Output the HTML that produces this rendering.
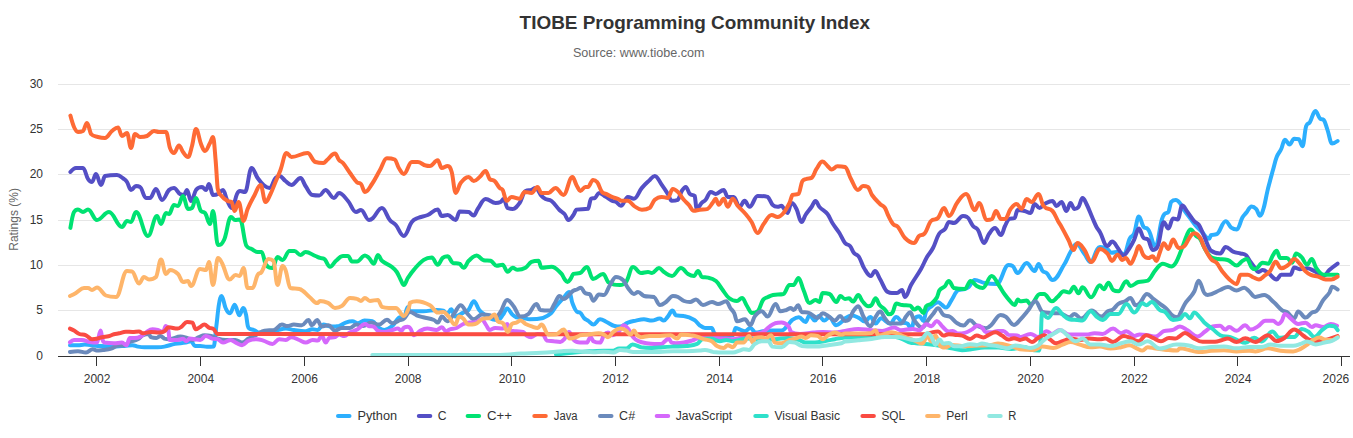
<!DOCTYPE html>
<html><head><meta charset="utf-8"><style>
html,body{margin:0;padding:0;background:#fff;}
body{width:1353px;height:438px;overflow:hidden;}
svg{display:block;font-family:"Liberation Sans",sans-serif;}
</style></head><body>
<svg width="1353" height="438" viewBox="0 0 1353 438">
<rect width="1353" height="438" fill="#fff"/>
<text x="694.8" y="28.7" text-anchor="middle" font-size="19" font-weight="bold" fill="#333333" textLength="350.4" lengthAdjust="spacingAndGlyphs">TIOBE Programming Community Index</text>
<text x="638.7" y="56.6" text-anchor="middle" font-size="12" fill="#666666" textLength="131.6" lengthAdjust="spacingAndGlyphs">Source: www.tiobe.com</text>
<g><path d="M58 310.5 H1350" stroke="#e6e6e6" stroke-width="1"/><path d="M58 265.5 H1350" stroke="#e6e6e6" stroke-width="1"/><path d="M58 220.5 H1350" stroke="#e6e6e6" stroke-width="1"/><path d="M58 174.5 H1350" stroke="#e6e6e6" stroke-width="1"/><path d="M58 129.5 H1350" stroke="#e6e6e6" stroke-width="1"/><path d="M58 84.5 H1350" stroke="#e6e6e6" stroke-width="1"/></g>
<g><path d="M70.0 345.2 C70.0 345.2 74.8 345.2 78.0 345.2 C80.6 345.2 82.0 344.6 84.6 344.6 C90.0 344.6 92.6 345.5 98.0 345.9 C103.2 346.3 105.8 346.6 111.0 346.6 C116.4 346.6 119.1 346.3 124.5 345.9 C127.7 345.7 129.3 345.2 132.5 345.2 C134.6 345.2 135.7 346.2 137.8 346.6 C140.5 347.0 141.8 347.2 144.5 347.2 C149.8 347.2 152.5 347.2 157.8 347.2 C160.4 347.2 161.8 347.1 164.4 346.6 C168.6 345.8 170.8 344.7 175.0 343.9 C179.3 343.1 181.4 343.3 185.7 342.6 C187.8 342.2 188.9 341.2 191.0 341.2 C192.6 341.2 193.4 345.9 195.0 345.9 C197.1 345.9 198.2 345.9 200.3 345.9 C203.0 345.9 204.3 346.8 207.0 346.8 C209.6 346.8 211.0 346.8 213.6 346.6 C214.7 346.4 215.2 335.1 216.3 326.6 C217.4 318.1 217.9 310.2 219.0 304.0 C220.0 298.0 220.6 296.0 221.6 296.0 C223.2 296.0 224.0 304.7 225.6 308.0 C227.4 311.6 228.2 313.3 230.0 313.3 C231.9 313.3 232.8 304.7 234.7 304.7 C236.5 304.7 237.5 315.3 239.3 315.3 C240.9 315.3 241.7 308.0 243.3 308.0 C244.4 308.0 244.9 310.3 246.0 314.6 C246.8 317.8 247.2 324.6 248.0 326.6 C248.5 328.6 248.8 328.3 249.3 328.6 C251.2 329.7 252.1 329.2 254.0 330.0 C256.1 330.8 257.2 332.6 259.3 332.6 C261.4 332.6 262.5 332.0 264.6 332.0 C266.8 332.0 267.8 332.0 270.0 332.0 C273.2 332.0 274.7 330.7 277.9 330.0 C281.1 329.3 282.7 328.6 285.9 328.6 C289.1 328.6 290.7 329.5 293.9 330.0 C298.1 330.6 300.3 331.3 304.5 331.3 C307.7 331.3 309.3 329.3 312.5 329.3 C314.6 329.3 315.7 330.0 317.8 330.0 C319.9 330.0 321.0 324.6 323.1 324.6 C326.3 324.6 327.9 326.6 331.1 326.6 C334.3 326.6 335.8 326.6 339.0 326.0 C341.7 325.4 343.0 323.5 345.7 322.6 C348.4 321.7 349.7 321.3 352.4 321.3 C354.5 321.3 355.6 323.3 357.7 323.3 C360.4 323.3 361.7 320.6 364.4 320.6 C367.6 320.6 369.1 320.6 372.3 321.3 C375.0 322.0 376.3 326.1 379.0 328.0 C381.1 329.5 382.2 330.0 384.3 330.0 C387.5 330.0 389.1 328.5 392.3 326.0 C395.5 323.5 397.1 317.3 400.3 317.3 C401.7 317.3 402.4 317.8 403.8 317.8 C405.4 317.8 406.2 306.9 407.8 306.9 C408.7 306.9 409.1 311.3 410.0 311.3 C415.3 311.3 418.0 311.3 423.3 311.3 C428.6 311.3 431.3 310.0 436.6 310.0 C439.3 310.0 440.6 310.0 443.3 310.6 C444.9 311.2 445.6 314.0 447.2 314.0 C448.8 314.0 449.6 309.3 451.2 309.3 C452.8 309.3 453.6 316.6 455.2 316.6 C458.4 316.6 460.0 314.2 463.2 312.6 C465.3 311.5 466.4 312.2 468.5 310.0 C470.7 307.7 471.7 301.3 473.9 301.3 C476.0 301.3 477.1 307.3 479.2 310.0 C481.3 312.7 482.4 313.1 484.5 314.6 C487.7 316.8 489.3 318.6 492.5 319.3 C494.6 320.0 495.7 320.0 497.8 320.0 C499.9 320.0 501.0 317.2 503.1 314.6 C504.7 312.6 505.5 308.6 507.1 308.6 C509.2 308.6 510.3 312.6 512.4 314.6 C514.0 316.1 514.8 316.6 516.4 317.3 C519.1 318.0 520.4 317.6 523.1 318.0 C525.7 318.4 527.1 319.3 529.7 319.3 C535.0 319.3 537.7 319.3 543.0 318.0 C546.2 316.7 547.8 316.2 551.0 313.3 C553.1 311.4 554.2 308.6 556.3 306.0 C559.2 302.5 560.6 301.0 563.5 297.9 C565.9 295.4 567.0 291.9 569.4 291.9 C570.6 291.9 571.1 299.9 572.3 302.7 C574.4 307.9 575.5 311.4 577.6 312.0 C578.6 312.6 579.0 312.0 580.0 312.6 C581.6 313.2 582.4 316.4 584.0 318.0 C585.6 319.6 586.4 319.5 588.0 320.6 C590.1 322.1 591.2 324.6 593.3 324.6 C596.0 324.6 597.3 319.3 600.0 319.3 C602.6 319.3 604.0 320.8 606.6 322.0 C609.8 323.5 611.4 325.4 614.6 326.0 C616.8 326.6 617.8 326.6 620.0 326.6 C623.2 326.6 624.7 323.8 627.9 322.6 C631.1 321.4 632.7 321.3 635.9 320.6 C639.1 319.9 640.7 319.3 643.9 319.3 C647.1 319.3 648.6 320.6 651.8 320.6 C655.0 320.6 656.6 318.6 659.8 318.6 C661.4 318.6 662.2 320.6 663.8 320.6 C665.4 320.6 666.2 318.4 667.8 316.6 C669.7 314.4 670.6 310.6 672.5 310.6 C673.8 310.6 674.5 314.6 675.8 315.3 C679.0 316.0 680.6 315.3 683.8 316.0 C688.0 316.7 690.2 317.5 694.4 320.0 C696.5 321.2 697.6 323.7 699.7 325.3 C701.8 326.9 702.9 327.9 705.0 327.9 C707.7 327.9 709.0 327.9 711.7 327.9 C712.8 327.9 713.3 331.9 714.4 333.3 C716.0 335.4 716.8 336.6 718.4 336.6 C721.6 336.6 723.1 336.2 726.3 335.9 C729.0 335.7 730.3 335.9 733.0 335.3 C734.0 334.7 734.6 327.9 735.6 327.9 C737.2 327.9 738.0 328.7 739.6 329.3 C741.8 330.1 742.8 331.3 745.0 331.3 C747.1 331.3 748.2 327.9 750.3 327.9 C752.4 327.9 753.5 332.6 755.6 332.6 C758.6 332.6 760.0 331.7 763.0 331.3 C766.7 330.9 768.6 330.6 772.3 330.6 C776.0 330.6 777.9 330.6 781.6 330.6 C784.3 330.6 785.6 327.3 788.3 324.6 C789.9 323.0 790.6 321.1 792.2 320.0 C794.9 318.2 796.2 317.3 798.9 317.3 C801.6 317.3 802.9 322.0 805.6 322.0 C807.2 322.0 807.9 315.3 809.5 315.3 C811.7 315.3 812.7 320.6 814.9 320.6 C816.5 320.6 817.3 316.0 818.9 316.0 C821.0 316.0 822.1 320.6 824.2 320.6 C826.3 320.6 827.4 317.3 829.5 317.3 C832.1 317.3 833.5 325.3 836.1 325.3 C838.3 325.3 839.3 323.7 841.5 322.0 C842.9 320.9 843.6 319.2 845.0 318.3 C847.7 316.6 849.0 315.6 851.7 315.6 C854.3 315.6 855.7 316.4 858.3 317.6 C861.0 318.8 862.3 321.6 865.0 321.6 C867.1 321.6 868.2 316.9 870.3 316.9 C872.4 316.9 873.5 323.6 875.6 323.6 C877.7 323.6 878.8 318.3 880.9 318.3 C884.6 318.3 886.5 323.6 890.2 323.6 C892.6 323.6 893.8 316.9 896.2 316.9 C898.6 316.9 899.8 320.9 902.2 322.3 C904.3 323.6 905.4 322.3 907.5 323.6 C909.1 324.9 909.9 328.9 911.5 328.9 C912.6 328.9 913.1 321.5 914.2 318.9 C916.3 316.3 917.4 316.3 919.5 316.3 C921.1 316.3 921.9 320.9 923.5 320.9 C924.5 320.9 925.1 313.5 926.1 311.6 C928.3 307.7 929.3 308.0 931.5 306.3 C934.1 304.3 935.5 302.3 938.1 302.3 C939.7 302.3 940.5 303.9 942.1 305.0 C943.7 306.1 944.5 307.6 946.1 307.6 C948.2 307.6 949.3 303.4 951.4 300.3 C954.1 296.4 955.4 291.6 958.1 290.3 C960.7 289.0 962.1 289.8 964.7 289.0 C966.3 288.5 967.1 288.4 968.7 287.0 C971.1 284.8 972.3 280.0 974.7 280.0 C978.7 280.0 980.7 282.3 984.7 283.0 C989.5 283.9 991.9 284.0 996.7 284.0 C1001.5 284.0 1003.8 265.0 1008.6 265.0 C1010.2 265.0 1011.0 265.0 1012.6 266.0 C1014.6 267.0 1015.6 273.0 1017.6 273.0 C1021.2 273.0 1023.0 263.0 1026.6 263.0 C1029.8 263.0 1031.4 271.0 1034.6 271.0 C1036.2 271.0 1037.0 264.0 1038.6 264.0 C1040.2 264.0 1041.0 269.2 1042.6 271.0 C1044.2 272.8 1045.0 271.5 1046.6 273.0 C1049.0 275.1 1050.1 280.0 1052.5 280.0 C1057.3 280.0 1059.7 271.5 1064.5 264.0 C1066.9 260.3 1068.1 256.0 1070.5 252.0 C1072.9 248.0 1074.1 244.0 1076.5 244.0 C1079.7 244.0 1081.3 249.9 1084.5 254.0 C1086.9 257.1 1088.1 262.0 1090.5 262.0 C1093.3 262.0 1094.6 253.3 1097.4 249.0 C1098.4 247.4 1099.0 247.1 1100.0 247.1 C1103.0 247.1 1104.4 247.5 1107.4 249.0 C1108.9 249.7 1109.6 252.7 1111.1 252.7 C1114.1 252.7 1115.5 251.7 1118.5 251.7 C1120.7 251.7 1121.8 254.5 1124.0 254.5 C1126.2 254.5 1127.4 243.5 1129.6 238.8 C1131.4 235.0 1132.4 237.6 1134.2 233.2 C1136.0 228.8 1137.0 216.6 1138.8 216.6 C1140.7 216.6 1141.6 224.2 1143.5 226.8 C1145.3 229.4 1146.3 226.8 1148.1 229.5 C1151.1 232.2 1152.5 246.2 1155.5 246.2 C1158.1 246.2 1159.3 228.4 1161.9 219.4 C1163.0 215.5 1163.6 215.1 1164.7 213.8 C1166.2 212.1 1166.9 213.8 1168.4 212.0 C1169.5 210.2 1170.1 203.6 1171.2 201.8 C1173.0 200.0 1174.0 200.0 1175.8 200.0 C1177.6 200.0 1178.6 201.5 1180.4 203.7 C1181.9 205.5 1182.6 207.9 1184.1 210.1 C1186.5 213.6 1187.6 214.8 1190.0 218.0 C1192.4 221.2 1193.6 223.2 1196.0 226.0 C1198.4 228.8 1199.6 229.7 1202.0 232.0 C1204.8 234.8 1206.3 238.8 1209.1 238.8 C1209.9 238.8 1210.2 236.0 1211.0 235.1 C1213.2 234.2 1214.3 235.1 1216.5 234.2 C1220.2 233.3 1222.0 221.2 1225.7 221.2 C1227.9 221.2 1229.1 226.0 1231.3 227.7 C1233.5 229.3 1234.6 229.5 1236.8 229.5 C1239.0 229.5 1240.2 221.5 1242.4 217.5 C1243.9 214.9 1244.6 214.7 1246.1 212.9 C1248.3 210.2 1249.4 206.4 1251.6 206.4 C1253.5 206.4 1254.4 207.1 1256.3 209.2 C1257.8 210.8 1258.5 215.7 1260.0 215.7 C1261.4 215.7 1262.2 213.1 1263.6 208.3 C1265.1 203.4 1265.8 197.9 1267.3 191.6 C1268.4 186.8 1269.0 184.9 1270.1 180.6 C1271.2 176.3 1271.8 174.3 1272.9 170.3 C1274.4 165.0 1275.1 161.1 1276.6 157.3 C1278.4 152.6 1279.4 152.9 1281.2 149.0 C1282.7 145.9 1283.4 139.8 1284.9 139.8 C1286.7 139.8 1287.7 144.4 1289.5 144.4 C1291.4 144.4 1292.3 138.8 1294.2 138.8 C1296.0 138.8 1297.0 138.8 1298.8 139.2 C1300.3 139.6 1301.0 146.2 1302.5 146.2 C1304.0 146.2 1304.7 129.6 1306.2 125.9 C1307.7 122.2 1308.4 124.6 1309.9 122.2 C1312.1 118.7 1313.2 111.1 1315.4 111.1 C1317.2 111.1 1318.2 117.0 1320.0 118.5 C1321.5 120.0 1322.2 118.5 1323.7 120.0 C1325.2 121.5 1325.9 125.5 1327.4 129.6 C1329.3 134.9 1330.2 143.5 1332.1 143.5 C1334.3 143.5 1337.6 141.0 1337.6 141.0" fill="none" stroke="#2caffe" stroke-width="4" stroke-linejoin="round" stroke-linecap="round"/>
<path d="M70.4 172.0 C70.4 172.0 73.8 168.0 76.0 168.0 C78.8 168.0 80.2 168.0 83.0 168.0 C85.0 168.0 86.0 175.9 88.0 179.0 C89.6 181.5 90.4 182.0 92.0 182.0 C93.6 182.0 94.4 174.0 96.0 174.0 C98.0 174.0 99.0 185.0 101.0 185.0 C102.6 185.0 103.4 177.0 105.0 176.0 C109.8 175.0 112.2 175.0 117.0 175.0 C119.8 175.0 121.2 177.0 124.0 179.0 C125.2 179.8 125.8 180.1 127.0 182.0 C128.6 184.5 129.4 190.0 131.0 190.0 C133.0 190.0 134.0 186.0 136.0 186.0 C137.6 186.0 138.4 186.0 140.0 187.0 C142.4 188.0 143.6 198.0 146.0 198.0 C147.6 198.0 148.4 198.0 150.0 198.0 C152.4 198.0 153.6 189.0 156.0 189.0 C158.4 189.0 159.6 200.0 162.0 200.0 C164.8 200.0 166.2 192.8 169.0 190.0 C171.0 188.0 172.0 188.0 174.0 188.0 C176.4 188.0 177.6 193.0 180.0 194.0 C181.6 195.0 182.4 195.0 184.0 195.0 C185.2 195.0 185.8 190.0 187.0 190.0 C188.6 190.0 189.4 201.0 191.0 201.0 C193.0 201.0 194.0 193.0 196.0 190.0 C198.4 187.0 199.6 187.0 202.0 187.0 C203.6 187.0 204.4 190.0 206.0 190.0 C207.2 190.0 207.8 184.0 209.0 184.0 C210.6 184.0 211.4 195.0 213.0 195.0 C215.0 195.0 216.0 195.0 218.0 194.0 C220.0 193.0 221.0 190.0 223.0 190.0 C224.6 190.0 225.4 196.8 227.0 200.0 C229.0 204.0 230.0 208.0 232.0 208.0 C234.0 208.0 235.0 198.2 237.0 194.0 C238.2 191.5 238.8 191.0 240.0 191.0 C242.0 191.0 243.0 192.0 245.0 192.0 C247.6 192.0 249.0 168.0 251.6 168.0 C254.0 168.0 255.2 174.6 257.6 178.0 C260.0 181.4 261.2 183.0 263.6 185.0 C266.0 187.0 267.1 188.0 269.5 188.0 C271.9 188.0 273.1 180.9 275.5 178.0 C277.1 176.1 277.9 176.0 279.5 176.0 C281.9 176.0 283.1 179.2 285.5 181.0 C287.9 182.8 289.1 185.0 291.5 185.0 C295.1 185.0 296.9 178.0 300.5 178.0 C302.5 178.0 303.5 183.1 305.5 186.0 C308.3 189.9 309.6 194.5 312.4 195.0 C315.2 195.5 316.6 195.5 319.4 195.5 C321.8 195.5 323.0 190.0 325.4 190.0 C328.8 190.0 330.6 198.0 334.0 198.0 C336.0 198.0 337.0 193.0 339.0 193.0 C342.6 193.0 344.4 197.0 348.0 201.0 C351.2 204.6 352.8 212.0 356.0 212.0 C358.0 212.0 359.0 210.0 361.0 210.0 C364.2 210.0 365.8 220.0 369.0 220.0 C370.6 220.0 371.4 219.5 373.0 218.0 C376.6 214.7 378.3 208.0 381.9 208.0 C385.1 208.0 386.6 216.1 389.8 220.0 C392.2 222.9 393.4 222.3 395.8 225.0 C399.0 228.6 400.6 235.9 403.8 235.9 C407.0 235.9 408.6 226.1 411.8 222.0 C414.2 218.9 415.4 219.1 417.8 218.0 C421.8 216.3 423.8 216.7 427.8 215.0 C431.8 213.3 433.7 209.4 437.7 209.4 C439.3 209.4 440.1 216.0 441.7 216.0 C444.1 216.0 445.3 215.0 447.7 215.0 C450.9 215.0 452.5 220.0 455.7 220.0 C457.3 220.0 458.1 211.5 459.7 211.5 C463.3 211.5 465.1 211.5 468.7 212.0 C470.7 212.5 471.7 215.5 473.7 215.5 C475.3 215.5 476.1 211.2 477.7 209.0 C480.9 204.6 482.4 199.0 485.6 199.0 C489.6 199.0 491.6 203.0 495.6 203.0 C497.6 203.0 498.6 203.0 500.6 202.0 C501.8 201.4 502.4 199.0 503.6 199.0 C505.2 199.0 506.0 207.0 507.6 208.0 C509.6 209.0 510.6 209.0 512.6 209.0 C515.4 209.0 516.8 206.9 519.6 203.0 C522.0 199.7 523.1 192.1 525.5 191.0 C527.9 189.9 529.1 190.6 531.5 189.9 C533.1 189.4 533.9 187.9 535.5 187.9 C537.9 187.9 539.1 193.2 541.5 195.9 C543.1 197.7 543.9 198.2 545.5 199.0 C547.9 200.2 549.1 199.1 551.5 201.0 C554.7 203.5 556.3 206.8 559.5 210.0 C561.5 212.0 562.5 211.8 564.5 214.0 C566.1 215.8 566.8 220.0 568.4 220.0 C570.4 220.0 571.4 217.6 573.4 215.0 C574.6 213.4 575.2 210.4 576.4 209.6 C581.0 208.8 583.4 209.6 588.0 208.8 C589.2 208.0 589.8 199.7 591.0 198.8 C592.6 197.9 593.4 198.8 595.0 197.9 C596.6 197.0 597.4 192.9 599.0 192.9 C601.8 192.9 603.2 195.2 606.0 196.9 C608.4 198.3 609.5 199.6 611.9 200.8 C613.5 201.6 614.3 200.9 615.9 201.8 C617.9 202.9 618.9 205.8 620.9 205.8 C623.7 205.8 625.1 196.9 627.9 196.9 C630.3 196.9 631.5 198.8 633.9 198.8 C637.1 198.8 638.7 191.7 641.9 187.9 C644.7 184.6 646.0 183.5 648.8 180.9 C651.2 178.7 652.4 175.9 654.8 175.9 C657.6 175.9 659.0 181.0 661.8 184.9 C664.2 188.2 665.4 190.1 667.8 193.9 C669.4 196.4 670.2 200.8 671.8 200.8 C674.2 200.8 675.4 200.8 677.8 199.8 C679.4 198.8 680.2 193.5 681.8 190.9 C683.4 188.3 684.2 186.9 685.8 186.9 C687.4 186.9 688.2 192.3 689.8 193.9 C691.8 195.9 692.7 193.9 694.7 195.9 C695.5 197.9 695.9 208.8 696.7 208.8 C698.7 208.8 699.7 204.8 701.7 202.8 C703.3 201.2 704.1 201.7 705.7 199.8 C707.7 197.4 708.7 191.9 710.7 191.9 C712.7 191.9 713.7 193.9 715.7 193.9 C718.9 193.9 720.5 189.9 723.7 189.9 C725.3 189.9 726.1 196.9 727.7 196.9 C730.1 196.9 731.3 196.9 733.7 196.9 C736.1 196.9 737.2 206.8 739.6 206.8 C741.6 206.8 742.6 200.8 744.6 200.8 C746.6 200.8 747.6 206.8 749.6 206.8 C752.8 206.8 754.4 195.9 757.6 195.9 C761.6 195.9 763.6 195.9 767.6 196.9 C769.6 197.9 770.6 202.8 772.6 204.8 C774.6 206.8 775.6 206.8 777.6 206.8 C779.2 206.8 779.9 205.8 781.5 205.8 C782.3 205.8 782.7 207.0 783.5 208.0 C785.1 209.9 785.9 213.0 787.5 213.0 C789.1 213.0 789.9 203.0 791.5 203.0 C793.5 203.0 794.5 205.2 796.5 209.0 C798.5 212.8 799.5 222.0 801.5 222.0 C803.1 222.0 803.9 217.4 805.5 215.0 C807.9 211.4 809.1 210.4 811.5 207.0 C813.1 204.8 813.9 201.0 815.5 201.0 C817.1 201.0 817.9 205.3 819.5 207.0 C822.7 210.5 824.3 210.0 827.5 214.0 C829.5 216.4 830.4 219.9 832.4 223.0 C835.2 227.5 836.6 228.6 839.4 233.0 C841.6 236.6 842.8 240.3 845.0 243.0 C847.0 245.5 848.0 243.8 850.0 246.0 C851.6 247.8 852.4 251.0 854.0 253.0 C856.0 255.4 857.0 254.0 859.0 257.0 C861.0 260.0 862.0 264.8 864.0 268.0 C866.8 272.4 868.2 276.0 871.0 276.0 C872.6 276.0 873.4 271.0 875.0 271.0 C877.0 271.0 878.0 275.8 880.0 279.0 C883.2 284.2 884.8 291.0 888.0 292.0 C889.6 293.0 890.4 293.0 892.0 293.0 C894.0 293.0 895.0 293.0 897.0 293.0 C899.0 293.0 900.0 290.0 902.0 290.0 C903.2 290.0 903.8 297.0 905.0 297.0 C907.4 297.0 908.6 289.2 911.0 285.0 C915.0 278.0 917.0 276.0 921.0 269.0 C923.4 264.8 924.6 261.2 927.0 257.0 C929.4 252.8 930.6 252.6 933.0 248.0 C935.4 243.4 936.6 237.8 939.0 234.0 C941.4 230.2 942.6 231.9 945.0 229.0 C946.6 227.1 947.4 222.0 949.0 222.0 C951.0 222.0 952.0 223.0 954.0 223.0 C957.6 223.0 959.4 216.0 963.0 216.0 C964.6 216.0 965.4 216.0 967.0 217.0 C969.4 218.0 970.6 223.2 973.0 226.0 C975.0 228.4 976.0 226.9 978.0 230.0 C980.4 233.7 981.6 243.0 984.0 243.0 C986.0 243.0 987.0 236.7 989.0 234.0 C991.4 230.7 992.6 228.0 995.0 228.0 C997.4 228.0 998.6 235.0 1001.0 235.0 C1002.6 235.0 1003.4 229.2 1005.0 226.0 C1006.6 222.8 1007.4 220.0 1009.0 219.0 C1011.2 218.0 1012.4 219.0 1014.6 218.0 C1015.8 217.0 1016.4 210.0 1017.6 210.0 C1020.4 210.0 1021.8 210.4 1024.6 211.0 C1027.0 211.6 1028.2 213.0 1030.6 213.0 C1032.2 213.0 1033.0 204.0 1034.6 204.0 C1036.6 204.0 1037.6 208.0 1039.6 208.0 C1041.6 208.0 1042.6 205.1 1044.6 204.0 C1047.8 202.3 1049.3 201.0 1052.5 201.0 C1054.1 201.0 1054.9 206.0 1056.5 206.0 C1058.5 206.0 1059.5 202.0 1061.5 202.0 C1063.5 202.0 1064.5 211.0 1066.5 211.0 C1068.1 211.0 1068.9 203.0 1070.5 203.0 C1072.1 203.0 1072.9 209.0 1074.5 209.0 C1076.1 209.0 1076.9 209.0 1078.5 207.0 C1080.1 205.0 1080.9 198.0 1082.5 198.0 C1084.1 198.0 1084.9 200.8 1086.5 204.0 C1088.9 208.8 1090.1 212.5 1092.5 218.0 C1094.1 221.7 1094.9 223.9 1096.5 227.0 C1097.9 229.7 1098.6 229.8 1100.0 232.3 C1103.0 237.5 1104.4 246.2 1107.4 246.2 C1109.2 246.2 1110.2 241.6 1112.0 241.6 C1114.6 241.6 1115.9 245.7 1118.5 249.0 C1120.3 251.3 1121.3 255.6 1123.1 255.6 C1125.7 255.6 1127.0 251.7 1129.6 248.0 C1131.4 245.4 1132.4 243.6 1134.2 239.7 C1136.0 235.8 1137.0 228.6 1138.8 228.6 C1140.7 228.6 1141.6 236.1 1143.5 237.9 C1145.3 239.7 1146.3 237.9 1148.1 239.7 C1149.9 241.5 1150.9 249.9 1152.7 249.9 C1154.5 249.9 1155.5 249.9 1157.3 247.1 C1159.9 244.3 1161.2 222.2 1163.8 222.2 C1165.6 222.2 1166.6 228.6 1168.4 228.6 C1170.2 228.6 1171.2 218.5 1173.0 218.5 C1174.9 218.5 1175.8 219.4 1177.7 219.4 C1179.5 219.4 1180.5 205.5 1182.3 205.5 C1184.1 205.5 1185.1 208.7 1186.9 211.1 C1189.9 215.0 1191.3 217.8 1194.3 221.2 C1196.1 223.3 1197.1 222.2 1198.9 224.9 C1200.8 227.7 1201.7 231.0 1203.6 235.0 C1206.6 241.3 1208.0 247.9 1211.0 250.7 C1214.7 253.5 1216.5 253.5 1220.2 253.5 C1222.4 253.5 1223.5 247.0 1225.7 247.0 C1228.7 247.0 1230.1 250.3 1233.1 251.6 C1236.1 252.9 1237.5 252.7 1240.5 253.5 C1242.7 254.1 1243.9 253.5 1246.1 255.3 C1247.6 256.5 1248.3 258.8 1249.8 260.9 C1252.0 264.0 1253.1 265.4 1255.3 268.3 C1256.4 269.8 1257.0 272.0 1258.1 272.0 C1259.9 272.0 1260.9 270.1 1262.7 270.1 C1264.9 270.1 1266.1 271.4 1268.3 272.9 C1271.6 275.1 1273.3 279.4 1276.6 279.4 C1278.4 279.4 1279.4 274.8 1281.2 274.8 C1284.9 274.8 1286.8 274.8 1290.5 274.8 C1292.0 274.8 1292.7 267.4 1294.2 267.4 C1296.4 267.4 1297.5 269.2 1299.7 269.2 C1302.7 269.2 1304.1 268.3 1307.1 268.3 C1310.1 268.3 1311.5 269.8 1314.5 271.1 C1318.2 272.7 1320.0 275.7 1323.7 275.7 C1325.9 275.7 1327.1 272.0 1329.3 270.1 C1332.6 267.2 1337.6 263.7 1337.6 263.7" fill="none" stroke="#544fc5" stroke-width="4" stroke-linejoin="round" stroke-linecap="round"/>
<path d="M70.4 227.9 C70.4 227.9 72.6 214.5 74.0 212.0 C75.6 209.5 76.4 209.5 78.0 209.5 C80.0 209.5 81.0 212.0 83.0 212.0 C85.0 212.0 86.0 209.5 88.0 209.5 C91.6 209.5 93.4 220.0 97.0 220.0 C101.8 220.0 104.2 212.0 109.0 212.0 C114.2 212.0 116.8 227.0 122.0 227.0 C124.0 227.0 125.0 221.0 127.0 221.0 C128.6 221.0 129.4 222.0 131.0 222.0 C133.0 222.0 134.0 212.0 136.0 212.0 C140.8 212.0 143.2 236.0 148.0 236.0 C151.6 236.0 153.4 216.0 157.0 216.0 C158.6 216.0 159.4 224.0 161.0 224.0 C163.0 224.0 164.0 213.0 166.0 213.0 C167.2 213.0 167.8 214.0 169.0 214.0 C171.0 214.0 172.0 205.0 174.0 205.0 C175.6 205.0 176.4 206.0 178.0 206.0 C180.0 206.0 181.0 196.0 183.0 196.0 C185.0 196.0 186.0 209.0 188.0 209.0 C189.6 209.0 190.4 209.0 192.0 208.0 C193.6 207.0 194.4 198.0 196.0 198.0 C198.0 198.0 199.0 209.0 201.0 211.0 C202.6 213.0 203.4 211.0 205.0 213.0 C207.0 215.0 208.0 224.0 210.0 224.0 C211.2 224.0 211.8 211.0 213.0 211.0 C215.0 211.0 216.0 245.0 218.0 245.0 C220.4 245.0 221.6 245.0 224.0 240.0 C226.8 235.0 228.2 217.0 231.0 217.0 C232.6 217.0 233.4 220.0 235.0 220.0 C237.0 220.0 238.0 219.5 240.0 219.5 C242.6 219.5 244.0 243.0 246.6 246.0 C248.6 249.0 249.6 247.9 251.6 249.0 C254.0 250.3 255.2 252.0 257.6 252.0 C259.2 252.0 260.0 252.0 261.6 252.0 C263.2 252.0 263.9 260.0 265.5 264.0 C268.3 268.0 269.7 268.0 272.5 268.0 C274.5 268.0 275.5 257.0 277.5 257.0 C279.5 257.0 280.5 260.0 282.5 260.0 C285.3 260.0 286.7 251.0 289.5 251.0 C291.5 251.0 292.5 251.0 294.5 251.0 C296.9 251.0 298.1 255.0 300.5 255.0 C302.5 255.0 303.5 252.0 305.5 252.0 C309.5 252.0 311.4 254.4 315.4 256.0 C317.2 256.7 318.2 257.3 320.0 257.9 C321.6 258.4 322.4 257.9 324.0 258.8 C326.4 259.7 327.6 266.8 330.0 266.8 C332.4 266.8 333.6 262.8 336.0 260.8 C338.8 258.5 340.2 255.9 343.0 255.9 C345.0 255.9 346.0 255.9 348.0 255.9 C349.6 255.9 350.4 261.4 352.0 261.4 C354.0 261.4 355.0 261.4 357.0 261.4 C360.2 261.4 361.7 255.5 364.9 255.5 C366.5 255.5 367.3 256.4 368.9 257.9 C370.9 259.7 371.9 263.8 373.9 263.8 C375.5 263.8 376.3 254.9 377.9 254.9 C379.5 254.9 380.3 259.4 381.9 260.8 C385.9 264.2 387.8 263.8 391.8 266.8 C393.8 268.3 394.8 269.1 396.8 272.0 C398.4 274.3 399.2 277.0 400.8 280.0 C402.0 282.2 402.6 285.0 403.8 285.0 C405.4 285.0 406.2 280.4 407.8 278.0 C410.2 274.4 411.4 272.5 413.8 269.8 C417.8 265.2 419.8 262.5 423.8 259.8 C427.0 257.6 428.6 257.5 431.8 257.5 C434.2 257.5 435.3 264.8 437.7 264.8 C439.7 264.8 440.7 259.5 442.7 257.9 C444.7 256.3 445.7 256.3 447.7 256.3 C449.7 256.3 450.7 261.8 452.7 262.8 C455.5 263.8 456.9 262.8 459.7 263.8 C461.3 264.8 462.1 267.8 463.7 267.8 C465.7 267.8 466.7 262.7 468.7 260.8 C471.9 257.8 473.5 255.5 476.7 255.5 C479.5 255.5 480.8 259.6 483.6 260.2 C486.4 260.8 487.8 260.2 490.6 260.8 C493.0 261.4 494.2 265.8 496.6 265.8 C499.0 265.8 500.2 264.8 502.6 264.8 C504.6 264.8 505.6 271.8 507.6 271.8 C509.6 271.8 510.6 267.8 512.6 267.8 C514.6 267.8 515.6 269.8 517.6 269.8 C520.8 269.8 522.3 269.6 525.5 267.8 C527.9 266.4 529.1 262.8 531.5 261.8 C534.3 260.8 535.7 260.8 538.5 260.8 C539.7 260.8 540.3 267.8 541.5 267.8 C545.5 267.8 547.5 266.8 551.5 266.8 C555.5 266.8 557.5 270.0 561.5 273.8 C562.7 274.9 563.3 277.4 564.5 279.0 C565.7 280.6 566.3 282.0 567.5 282.0 C568.7 282.0 569.3 280.7 570.5 279.0 C571.7 277.4 572.2 274.6 573.4 273.8 C576.0 273.0 577.4 273.8 580.0 273.0 C582.8 272.2 584.2 267.0 587.0 267.0 C589.4 267.0 590.6 279.0 593.0 279.0 C597.0 279.0 599.0 274.0 603.0 274.0 C605.0 274.0 606.0 279.0 608.0 282.0 C612.8 285.0 615.2 285.0 620.0 285.0 C622.4 285.0 623.6 285.0 626.0 282.0 C628.8 279.0 630.2 267.0 633.0 267.0 C636.2 267.0 637.8 273.0 641.0 273.0 C643.8 273.0 645.2 272.0 648.0 272.0 C649.6 272.0 650.4 273.0 652.0 273.0 C654.8 273.0 656.2 268.0 659.0 268.0 C661.0 268.0 662.0 270.8 664.0 272.0 C667.2 274.0 668.8 276.0 672.0 276.0 C675.6 276.0 677.4 268.0 681.0 268.0 C683.8 268.0 685.2 272.3 688.0 274.0 C690.4 275.5 691.6 276.0 694.0 276.0 C695.6 276.0 696.4 271.0 698.0 271.0 C699.6 271.0 700.4 276.4 702.0 277.0 C704.4 277.6 705.6 277.0 708.0 277.6 C711.2 278.2 712.8 278.4 716.0 281.0 C718.4 283.0 719.6 285.9 722.0 289.0 C724.8 292.7 726.2 295.8 729.0 298.0 C732.2 300.6 733.8 301.0 737.0 301.0 C739.0 301.0 740.0 298.0 742.0 298.0 C744.0 298.0 745.0 303.0 747.0 306.0 C749.0 309.0 750.0 313.0 752.0 313.0 C754.4 313.0 755.6 313.0 758.0 311.0 C760.0 309.0 761.0 302.8 763.0 300.0 C765.0 297.2 766.0 298.0 768.0 297.0 C770.0 296.0 771.0 295.4 773.0 295.0 C777.2 294.2 779.3 295.0 783.5 294.0 C785.9 293.0 787.1 285.0 789.5 285.0 C791.1 285.0 791.9 285.0 793.5 285.0 C795.5 285.0 796.5 278.0 798.5 278.0 C800.5 278.0 801.5 285.5 803.5 290.0 C805.9 295.5 807.1 303.0 809.5 303.0 C811.9 303.0 813.1 300.0 815.5 300.0 C817.1 300.0 817.9 302.0 819.5 302.0 C820.7 302.0 821.3 293.0 822.5 293.0 C825.3 293.0 826.7 293.0 829.5 294.0 C832.3 295.0 833.6 302.0 836.4 302.0 C838.0 302.0 838.8 296.0 840.4 296.0 C842.2 296.0 843.2 299.0 845.0 299.0 C846.6 299.0 847.4 298.3 849.0 298.3 C850.6 298.3 851.4 301.6 853.0 301.6 C855.1 301.6 856.2 295.0 858.3 295.0 C859.9 295.0 860.7 299.2 862.3 301.0 C864.7 303.7 865.9 306.3 868.3 306.3 C869.6 306.3 870.3 306.3 871.6 305.0 C873.2 303.7 874.0 298.3 875.6 298.3 C877.2 298.3 878.0 303.1 879.6 305.0 C881.7 307.6 882.8 307.5 884.9 309.6 C886.5 311.2 887.3 314.3 888.9 314.3 C890.2 314.3 890.9 314.3 892.2 313.0 C893.8 311.7 894.6 303.6 896.2 303.6 C898.6 303.6 899.8 304.7 902.2 305.0 C905.4 305.5 907.0 305.0 910.2 305.6 C911.8 306.2 912.6 309.6 914.2 309.6 C915.8 309.6 916.6 307.6 918.2 307.6 C920.3 307.6 921.4 313.0 923.5 313.0 C924.5 313.0 925.1 307.5 926.1 306.3 C928.3 303.8 929.3 305.4 931.5 303.6 C933.6 301.9 934.7 301.1 936.8 297.6 C937.9 295.8 938.4 291.8 939.5 290.3 C941.6 287.3 942.7 288.4 944.8 286.3 C946.4 284.7 947.2 281.0 948.8 281.0 C950.8 281.0 951.8 287.0 953.8 288.0 C958.2 289.0 960.3 289.0 964.7 289.0 C967.1 289.0 968.3 281.0 970.7 281.0 C973.1 281.0 974.3 284.6 976.7 286.0 C979.1 287.4 980.3 288.0 982.7 288.0 C986.3 288.0 988.1 276.0 991.7 276.0 C994.5 276.0 995.9 281.0 998.7 285.0 C1001.1 288.3 1002.2 291.0 1004.6 294.3 C1006.8 297.4 1007.8 298.7 1010.0 301.0 C1011.8 303.0 1012.8 305.0 1014.6 305.0 C1016.0 305.0 1016.6 299.6 1018.0 299.6 C1018.8 299.6 1019.2 301.3 1020.0 301.3 C1022.7 301.3 1024.0 300.6 1026.7 300.6 C1028.3 300.6 1029.0 304.6 1030.6 304.6 C1034.4 304.6 1036.2 294.0 1040.0 294.0 C1041.6 294.0 1042.4 294.0 1044.0 294.0 C1047.2 294.0 1048.7 301.3 1051.9 301.3 C1054.0 301.3 1055.1 299.1 1057.2 297.3 C1059.9 295.1 1061.2 291.3 1063.9 291.3 C1066.0 291.3 1067.1 292.6 1069.2 292.6 C1071.1 292.6 1072.0 286.7 1073.9 286.7 C1075.7 286.7 1076.7 293.3 1078.5 293.3 C1080.1 293.3 1080.9 287.3 1082.5 287.3 C1086.0 287.3 1087.7 297.3 1091.2 297.3 C1094.6 297.3 1096.4 285.3 1099.8 285.3 C1101.4 285.3 1102.2 289.3 1103.8 289.3 C1105.7 289.3 1106.6 282.7 1108.5 282.7 C1110.3 282.7 1111.3 288.7 1113.1 290.0 C1115.2 291.3 1116.3 291.3 1118.4 291.3 C1121.6 291.3 1123.2 281.3 1126.4 281.3 C1128.0 281.3 1128.8 286.0 1130.4 286.0 C1133.6 286.0 1135.2 283.0 1138.4 282.0 C1142.1 280.9 1144.0 282.0 1147.7 280.7 C1150.8 279.4 1152.4 273.6 1155.5 270.1 C1158.5 266.8 1159.9 263.7 1162.9 263.7 C1166.2 263.7 1167.9 266.4 1171.2 266.4 C1173.0 266.4 1174.0 265.7 1175.8 262.7 C1178.0 259.1 1179.2 255.4 1181.4 249.8 C1183.6 244.3 1184.7 239.9 1186.9 235.0 C1188.4 231.7 1189.1 229.5 1190.6 229.5 C1192.8 229.5 1194.0 233.8 1196.2 236.0 C1197.7 237.5 1198.4 236.5 1199.9 238.7 C1202.1 242.0 1203.2 246.1 1205.4 249.8 C1207.6 253.5 1208.8 255.4 1211.0 257.2 C1213.9 259.0 1215.4 258.5 1218.3 259.0 C1222.0 259.6 1223.9 259.0 1227.6 260.0 C1231.3 261.0 1233.1 265.5 1236.8 265.5 C1239.0 265.5 1240.2 262.3 1242.4 260.9 C1244.2 259.7 1245.2 259.0 1247.0 259.0 C1248.8 259.0 1249.8 265.6 1251.6 267.4 C1253.1 269.2 1253.8 269.2 1255.3 269.2 C1258.3 269.2 1259.7 262.7 1262.7 262.7 C1264.9 262.7 1266.1 263.7 1268.3 263.7 C1270.1 263.7 1271.1 258.2 1272.9 255.3 C1274.4 253.0 1275.1 250.7 1276.6 250.7 C1278.1 250.7 1278.8 258.1 1280.3 258.1 C1282.9 258.1 1284.2 258.1 1286.8 258.1 C1289.0 258.1 1290.1 262.7 1292.3 262.7 C1293.8 262.7 1294.5 253.5 1296.0 253.5 C1298.2 253.5 1299.4 255.0 1301.6 257.2 C1303.8 259.4 1304.9 264.6 1307.1 264.6 C1308.9 264.6 1309.9 259.0 1311.7 259.0 C1313.6 259.0 1314.5 265.8 1316.4 268.3 C1319.3 272.1 1320.8 274.8 1323.7 274.8 C1326.7 274.8 1328.2 274.8 1331.2 274.8 C1333.8 274.8 1337.6 274.8 1337.6 274.8" fill="none" stroke="#00e272" stroke-width="4" stroke-linejoin="round" stroke-linecap="round"/>
<path d="M70.4 115.6 C70.4 115.6 72.6 123.9 74.0 127.0 C75.6 130.5 76.4 132.0 78.0 132.0 C80.0 132.0 81.0 132.0 83.0 131.0 C84.6 130.0 85.4 123.0 87.0 123.0 C88.6 123.0 89.4 131.0 91.0 134.0 C93.8 137.0 95.2 136.2 98.0 137.0 C100.8 137.8 102.2 138.0 105.0 138.0 C107.8 138.0 109.2 133.3 112.0 131.0 C114.4 129.1 115.6 127.5 118.0 127.5 C119.6 127.5 120.4 136.0 122.0 136.0 C124.0 136.0 125.0 133.0 127.0 133.0 C128.6 133.0 129.4 148.0 131.0 148.0 C132.6 148.0 133.4 134.0 135.0 134.0 C137.0 134.0 138.0 137.0 140.0 137.0 C142.8 137.0 144.2 137.0 147.0 136.0 C149.8 135.0 151.2 131.0 154.0 131.0 C156.0 131.0 157.0 132.0 159.0 132.0 C161.8 132.0 163.2 132.0 166.0 132.0 C167.6 132.0 168.4 143.8 170.0 148.0 C171.6 152.2 172.4 153.0 174.0 153.0 C176.0 153.0 177.0 145.5 179.0 145.5 C180.6 145.5 181.4 150.0 183.0 152.0 C185.0 154.6 186.0 157.0 188.0 157.0 C189.6 157.0 190.4 151.6 192.0 146.0 C193.6 140.4 194.4 129.0 196.0 129.0 C198.0 129.0 199.0 139.1 201.0 144.0 C202.6 147.9 203.4 151.0 205.0 151.0 C207.0 151.0 208.0 146.5 210.0 143.0 C211.2 140.9 211.8 137.0 213.0 137.0 C214.0 137.0 214.6 148.5 215.6 160.0 C216.4 168.9 216.8 180.0 217.6 188.0 C219.2 196.0 220.0 193.9 221.6 196.0 C224.0 199.1 225.2 199.6 227.6 201.0 C229.2 202.0 230.0 201.0 231.6 202.0 C232.8 203.0 233.4 211.0 234.6 211.0 C236.2 211.0 237.0 202.0 238.6 202.0 C240.6 202.0 241.6 221.0 243.6 221.0 C245.2 221.0 246.0 212.8 247.6 209.0 C250.4 202.4 251.8 200.2 254.6 195.0 C257.0 190.6 258.2 185.0 260.6 185.0 C262.6 185.0 263.5 202.0 265.5 202.0 C267.5 202.0 268.5 198.0 270.5 194.0 C272.5 190.0 273.5 186.8 275.5 182.0 C277.5 177.2 278.5 175.3 280.5 170.0 C282.9 163.7 284.1 153.0 286.5 153.0 C288.5 153.0 289.5 157.0 291.5 157.0 C297.9 157.0 301.1 153.0 307.5 153.0 C310.7 153.0 312.2 161.0 315.4 162.0 C318.6 163.0 320.2 163.0 323.4 163.0 C324.8 163.0 325.6 161.2 327.0 160.0 C330.2 157.4 331.8 153.5 335.0 153.5 C336.6 153.5 337.4 158.1 339.0 160.0 C340.6 161.9 341.4 161.1 343.0 163.0 C345.8 166.3 347.2 169.1 350.0 173.0 C352.8 176.9 354.2 179.5 357.0 182.3 C358.6 183.9 359.4 182.3 361.0 184.0 C362.6 185.7 363.4 192.0 365.0 192.0 C367.8 192.0 369.2 188.1 372.0 184.0 C375.2 179.3 376.8 175.5 380.0 170.0 C382.8 165.2 384.1 158.3 386.9 158.3 C390.1 158.3 391.6 158.3 394.8 159.5 C396.4 160.7 397.2 165.4 398.8 168.0 C400.8 171.2 401.8 174.0 403.8 174.0 C407.0 174.0 408.6 162.0 411.8 162.0 C414.2 162.0 415.4 162.0 417.8 162.0 C421.0 162.0 422.6 165.0 425.8 165.5 C427.4 166.0 428.2 166.0 429.8 166.0 C433.0 166.0 434.5 160.3 437.7 160.3 C439.3 160.3 440.1 168.0 441.7 168.0 C444.1 168.0 445.3 166.0 447.7 166.0 C449.3 166.0 450.1 166.6 451.7 172.0 C453.3 177.4 454.1 192.9 455.7 192.9 C457.7 192.9 458.7 185.3 460.7 182.9 C463.9 179.0 465.5 177.0 468.7 177.0 C470.7 177.0 471.7 181.0 473.7 181.0 C476.1 181.0 477.3 179.0 479.7 177.0 C482.1 175.0 483.2 171.0 485.6 171.0 C487.2 171.0 488.0 177.0 489.6 179.0 C491.6 181.0 492.6 179.2 494.6 181.0 C496.6 182.8 497.6 185.7 499.6 187.9 C500.8 189.2 501.4 187.9 502.6 189.9 C504.2 191.9 505.0 200.8 506.6 200.8 C508.6 200.8 509.6 196.9 511.6 196.9 C514.8 196.9 516.4 198.8 519.6 198.8 C521.6 198.8 522.6 191.9 524.6 191.9 C527.4 191.9 528.7 192.9 531.5 192.9 C533.9 192.9 535.1 186.9 537.5 186.9 C539.1 186.9 539.9 192.9 541.5 192.9 C544.3 192.9 545.7 192.9 548.5 192.9 C551.3 192.9 552.7 187.9 555.5 187.9 C558.7 187.9 560.3 194.9 563.5 194.9 C567.1 194.9 568.8 176.9 572.4 176.9 C574.0 176.9 574.8 182.1 576.4 184.9 C578.0 187.7 578.8 190.9 580.4 190.9 C582.4 190.9 583.4 186.9 585.4 186.9 C586.4 186.9 587.0 186.9 588.0 186.9 C590.0 186.9 591.0 179.9 593.0 179.9 C594.6 179.9 595.4 179.9 597.0 181.9 C599.0 183.9 600.0 189.9 602.0 191.9 C603.6 193.9 604.4 193.1 606.0 193.9 C608.4 195.1 609.5 195.9 611.9 196.9 C614.3 197.9 615.5 197.9 617.9 198.8 C619.5 199.4 620.3 200.8 621.9 200.8 C624.3 200.8 625.5 200.8 627.9 200.8 C630.3 200.8 631.5 204.3 633.9 205.8 C637.1 207.9 638.7 209.8 641.9 209.8 C645.1 209.8 646.6 209.8 649.8 207.8 C651.8 205.8 652.8 201.6 654.8 199.8 C657.6 197.3 659.0 196.9 661.8 196.9 C664.2 196.9 665.4 197.9 667.8 197.9 C669.8 197.9 670.8 188.9 672.8 188.9 C674.8 188.9 675.8 189.9 677.8 191.9 C680.2 194.3 681.4 197.0 683.8 199.8 C685.8 202.1 686.8 202.6 688.8 204.8 C690.8 207.0 691.7 210.8 693.7 210.8 C696.1 210.8 697.3 210.1 699.7 209.8 C702.9 209.3 704.5 209.8 707.7 208.8 C709.7 207.8 710.7 205.3 712.7 202.8 C713.9 201.3 714.5 198.8 715.7 198.8 C716.9 198.8 717.5 204.8 718.7 204.8 C720.7 204.8 721.7 198.8 723.7 198.8 C725.3 198.8 726.1 206.8 727.7 206.8 C729.7 206.8 730.7 198.8 732.7 198.8 C734.7 198.8 735.7 203.4 737.7 205.8 C740.9 209.5 742.4 210.3 745.6 214.0 C748.0 216.8 749.2 218.2 751.6 222.0 C754.0 225.8 755.2 233.0 757.6 233.0 C760.0 233.0 761.2 227.1 763.6 224.0 C766.8 219.9 768.4 215.0 771.6 215.0 C774.0 215.0 775.2 217.0 777.6 217.0 C780.0 217.0 781.1 215.8 783.5 213.0 C785.9 210.2 787.1 207.8 789.5 203.0 C790.7 200.6 791.3 195.9 792.5 194.9 C794.9 193.9 796.1 194.9 798.5 193.9 C800.1 192.9 800.9 182.9 802.5 180.9 C804.1 178.9 804.9 179.4 806.5 178.9 C808.5 178.2 809.5 178.9 811.5 177.9 C813.5 176.9 814.5 171.9 816.5 168.9 C818.9 165.3 820.1 161.5 822.5 161.5 C824.5 161.5 825.5 164.1 827.5 165.9 C829.1 167.3 829.9 169.5 831.5 169.5 C833.9 169.5 835.0 166.3 837.4 166.3 C840.4 166.3 842.0 166.3 845.0 167.0 C847.4 167.7 848.6 174.8 851.0 179.0 C853.8 184.0 855.2 190.0 858.0 190.0 C860.0 190.0 861.0 186.0 863.0 186.0 C865.0 186.0 866.0 186.0 868.0 187.0 C869.6 188.0 870.4 192.7 872.0 195.0 C875.2 199.5 876.8 200.8 880.0 204.0 C882.0 206.0 883.0 205.3 885.0 208.0 C886.2 209.7 886.8 212.6 888.0 215.0 C890.0 219.0 891.0 221.6 893.0 224.0 C895.0 226.4 896.0 224.7 898.0 227.0 C900.8 230.3 902.2 235.2 905.0 238.0 C908.6 241.6 910.4 243.0 914.0 243.0 C916.0 243.0 917.0 237.8 919.0 236.0 C921.0 234.2 922.0 236.0 924.0 234.0 C926.8 232.0 928.2 224.0 931.0 221.0 C933.8 218.0 935.2 220.8 938.0 218.0 C940.4 215.6 941.6 208.0 944.0 208.0 C946.0 208.0 947.0 216.0 949.0 216.0 C952.2 216.0 953.8 207.1 957.0 203.0 C960.6 198.3 962.4 194.0 966.0 194.0 C969.6 194.0 971.4 210.0 975.0 210.0 C976.6 210.0 977.4 203.0 979.0 203.0 C982.2 203.0 983.8 220.0 987.0 220.0 C989.0 220.0 990.0 220.0 992.0 219.0 C993.6 218.0 994.4 211.0 996.0 211.0 C998.0 211.0 999.0 219.0 1001.0 219.0 C1002.6 219.0 1003.4 219.0 1005.0 219.0 C1007.2 219.0 1008.4 211.9 1010.6 209.0 C1013.0 205.9 1014.2 204.0 1016.6 204.0 C1018.6 204.0 1019.6 209.0 1021.6 209.0 C1023.6 209.0 1024.6 199.0 1026.6 199.0 C1028.6 199.0 1029.6 202.0 1031.6 202.0 C1034.4 202.0 1035.8 194.0 1038.6 194.0 C1040.6 194.0 1041.6 203.6 1043.6 206.0 C1047.2 210.4 1048.9 207.2 1052.5 211.0 C1054.9 213.6 1056.1 217.8 1058.5 222.0 C1059.3 223.4 1059.7 223.6 1060.5 225.0 C1063.7 230.8 1065.3 233.8 1068.5 240.0 C1070.5 243.8 1071.5 250.0 1073.5 250.0 C1075.1 250.0 1075.9 243.0 1077.5 243.0 C1080.3 243.0 1081.7 246.2 1084.5 250.0 C1087.3 253.8 1088.7 262.0 1091.5 262.0 C1094.3 262.0 1095.6 254.3 1098.4 250.0 C1099.0 249.0 1099.4 248.9 1100.0 248.9 C1103.0 248.9 1104.4 250.5 1107.4 253.5 C1109.2 255.3 1110.2 260.9 1112.0 260.9 C1114.2 260.9 1115.4 254.4 1117.6 254.4 C1119.4 254.4 1120.4 260.0 1122.2 260.0 C1123.7 260.0 1124.4 258.1 1125.9 258.1 C1127.7 258.1 1128.7 263.7 1130.5 263.7 C1132.3 263.7 1133.3 259.2 1135.1 255.3 C1136.6 252.2 1137.3 246.1 1138.8 246.1 C1140.7 246.1 1141.6 252.9 1143.5 255.3 C1145.3 257.7 1146.3 258.1 1148.1 258.1 C1149.9 258.1 1150.9 256.3 1152.7 256.3 C1154.2 256.3 1154.9 260.9 1156.4 260.9 C1157.9 260.9 1158.6 255.1 1160.1 251.6 C1161.6 248.1 1162.3 243.3 1163.8 243.3 C1165.6 243.3 1166.6 248.9 1168.4 248.9 C1170.2 248.9 1171.2 239.6 1173.0 239.6 C1175.2 239.6 1176.4 247.9 1178.6 247.9 C1180.4 247.9 1181.4 247.9 1183.2 247.0 C1186.2 246.1 1187.6 239.6 1190.6 235.9 C1192.1 234.1 1192.8 233.2 1194.3 233.2 C1196.9 233.2 1198.2 235.2 1200.8 238.8 C1201.9 240.4 1202.5 243.9 1203.6 246.1 C1206.6 252.0 1208.0 255.2 1211.0 259.0 C1213.2 261.8 1214.3 260.3 1216.5 262.7 C1218.7 265.1 1219.8 268.3 1222.0 271.1 C1225.0 274.9 1226.4 276.8 1229.4 279.4 C1232.4 282.0 1233.8 284.0 1236.8 284.0 C1238.3 284.0 1239.0 274.8 1240.5 274.8 C1243.5 274.8 1244.9 274.8 1247.9 274.8 C1250.1 274.8 1251.3 276.6 1253.5 277.5 C1255.7 278.4 1256.8 279.4 1259.0 279.4 C1261.2 279.4 1262.4 277.4 1264.6 275.7 C1266.8 274.1 1267.9 273.9 1270.1 271.1 C1272.3 268.3 1273.5 261.8 1275.7 261.8 C1277.9 261.8 1279.0 268.3 1281.2 268.3 C1284.2 268.3 1285.6 266.7 1288.6 264.6 C1290.8 263.0 1292.0 259.0 1294.2 259.0 C1296.4 259.0 1297.5 261.3 1299.7 263.7 C1301.9 266.1 1303.1 268.9 1305.3 271.1 C1307.5 273.3 1308.6 273.9 1310.8 274.8 C1313.8 276.1 1315.2 275.7 1318.2 276.6 C1321.2 277.5 1322.6 279.4 1325.6 279.4 C1327.8 279.4 1329.0 279.4 1331.2 279.4 C1333.8 279.4 1337.6 276.6 1337.6 276.6" fill="none" stroke="#fe6a35" stroke-width="4" stroke-linejoin="round" stroke-linecap="round"/>
<path d="M70.0 351.9 C70.0 351.9 74.8 351.2 78.0 351.2 C81.2 351.2 82.8 352.5 86.0 352.5 C88.6 352.5 90.0 349.2 92.6 349.2 C94.2 349.2 95.0 350.5 96.6 350.5 C99.2 350.5 100.4 350.2 103.0 349.9 C106.3 349.5 107.9 349.6 111.2 348.6 C113.3 348.0 114.4 346.6 116.5 345.9 C119.7 345.2 121.3 345.9 124.5 345.2 C126.6 344.5 127.7 342.9 129.8 341.9 C133.0 340.5 134.6 340.8 137.8 339.2 C139.9 338.2 140.9 336.3 143.0 335.3 C145.2 334.2 146.3 334.0 148.5 334.0 C149.5 334.0 150.0 336.4 151.0 337.2 C153.2 338.0 154.2 338.0 156.4 338.0 C158.0 338.0 158.8 336.0 160.4 336.0 C162.0 336.0 162.8 338.0 164.4 338.6 C166.5 339.2 167.6 339.2 169.7 339.2 C174.0 339.2 176.1 336.6 180.4 336.6 C183.0 336.6 184.4 337.3 187.0 338.0 C189.2 338.6 190.2 340.0 192.4 340.0 C195.0 340.0 196.4 338.2 199.0 337.2 C201.1 336.4 202.2 335.3 204.3 335.3 C207.0 335.3 208.3 335.3 211.0 336.0 C213.6 336.7 215.0 337.9 217.6 338.6 C220.8 339.5 222.4 340.0 225.6 340.0 C227.4 340.0 228.2 340.0 230.0 340.0 C232.1 340.0 233.2 340.0 235.3 340.0 C238.0 340.0 239.3 342.6 242.0 342.6 C244.6 342.6 246.0 340.0 248.6 338.6 C251.8 336.8 253.4 336.2 256.6 334.6 C259.8 333.0 261.4 331.2 264.6 330.6 C268.3 330.0 270.2 330.6 273.9 330.0 C277.1 329.4 278.7 324.6 281.9 324.6 C284.0 324.6 285.1 326.0 287.2 326.0 C289.9 326.0 291.2 324.6 293.9 324.6 C297.1 324.6 298.6 325.3 301.8 325.3 C304.5 325.3 305.8 320.0 308.5 320.0 C309.8 320.0 310.5 325.3 311.8 325.3 C313.9 325.3 315.0 320.0 317.1 320.0 C319.0 320.0 319.9 326.6 321.8 326.6 C324.4 326.6 325.8 325.3 328.4 325.3 C331.1 325.3 332.4 330.6 335.1 330.6 C337.7 330.6 339.1 328.0 341.7 328.0 C344.9 328.0 346.5 328.0 349.7 328.0 C352.4 328.0 353.7 324.6 356.4 324.6 C359.0 324.6 360.4 326.0 363.0 326.0 C366.2 326.0 367.8 322.6 371.0 322.6 C374.2 322.6 375.8 324.6 379.0 324.6 C382.2 324.6 383.8 319.7 387.0 319.7 C389.1 319.7 390.2 323.3 392.3 323.3 C395.5 323.3 397.1 321.3 400.3 320.0 C401.7 319.5 402.4 320.0 403.8 318.8 C406.3 316.8 407.5 312.0 410.0 312.0 C412.7 312.0 414.0 314.2 416.7 315.3 C419.3 316.4 420.7 316.6 423.3 317.3 C427.6 318.5 429.7 318.4 434.0 320.0 C435.6 320.6 436.3 322.6 437.9 322.6 C439.5 322.6 440.3 316.6 441.9 316.6 C444.0 316.6 445.1 321.3 447.2 321.3 C449.9 321.3 451.2 317.2 453.9 314.0 C456.6 310.8 457.9 305.3 460.6 305.3 C463.2 305.3 464.6 310.5 467.2 313.3 C469.9 316.1 471.2 319.3 473.9 319.3 C477.1 319.3 478.6 314.6 481.8 314.6 C485.0 314.6 486.6 314.7 489.8 315.3 C491.9 315.7 493.0 317.3 495.1 317.3 C497.3 317.3 498.3 315.1 500.5 312.0 C503.1 308.2 504.5 300.0 507.1 300.0 C509.8 300.0 511.1 303.3 513.8 306.6 C516.4 309.9 517.8 316.6 520.4 316.6 C523.6 316.6 525.2 316.5 528.4 314.0 C531.6 311.5 533.2 304.0 536.4 304.0 C538.0 304.0 538.8 309.4 540.4 310.0 C544.1 310.6 546.0 310.6 549.7 310.6 C551.6 310.6 552.6 306.8 554.5 303.9 C556.5 300.9 557.5 295.9 559.5 295.9 C561.1 295.9 561.9 298.9 563.5 298.9 C567.3 298.9 569.1 293.6 572.9 291.0 C574.5 289.9 575.4 290.2 577.0 289.5 C578.6 288.8 579.4 287.7 581.0 287.7 C582.4 287.7 583.1 291.2 584.5 292.5 C585.7 293.6 586.3 293.6 587.5 293.8 C588.3 294.0 588.7 293.8 589.5 294.0 C591.1 294.2 591.8 300.7 593.4 300.7 C595.6 300.7 596.7 294.5 598.9 294.5 C600.9 294.5 602.0 295.0 604.0 295.0 C606.4 295.0 607.6 288.6 610.0 285.0 C612.4 281.4 613.6 277.0 616.0 277.0 C618.8 277.0 620.2 277.4 623.0 280.0 C625.0 281.8 626.0 285.5 628.0 288.0 C630.4 291.1 631.6 294.0 634.0 294.0 C635.6 294.0 636.4 292.0 638.0 292.0 C640.4 292.0 641.6 295.0 644.0 296.0 C648.0 297.0 650.0 296.0 654.0 297.0 C656.4 298.0 657.6 305.0 660.0 305.0 C662.4 305.0 663.6 303.7 666.0 302.0 C668.8 300.1 670.2 296.0 673.0 296.0 C675.0 296.0 676.0 296.1 678.0 297.0 C680.4 298.1 681.6 300.0 684.0 301.0 C686.4 302.0 687.6 302.0 690.0 302.0 C692.4 302.0 693.6 299.5 696.0 299.5 C698.8 299.5 700.2 305.0 703.0 305.0 C706.6 305.0 708.4 302.0 712.0 302.0 C714.4 302.0 715.6 304.0 718.0 304.0 C721.3 304.0 723.0 301.3 726.3 301.3 C727.9 301.3 728.7 305.6 730.3 308.0 C731.9 310.4 732.7 310.1 734.3 313.3 C735.4 315.4 735.9 321.3 737.0 321.3 C740.2 321.3 741.8 319.3 745.0 319.3 C747.1 319.3 748.2 325.3 750.3 325.3 C752.2 325.3 753.1 318.3 755.0 316.0 C757.7 312.7 759.0 311.3 761.7 311.3 C764.1 311.3 765.2 316.6 767.6 316.6 C770.8 316.6 772.4 304.0 775.6 304.0 C777.5 304.0 778.4 311.3 780.3 311.3 C782.7 311.3 783.9 310.7 786.3 310.0 C788.1 309.4 789.1 308.0 790.9 308.0 C792.0 308.0 792.5 310.0 793.6 310.0 C795.4 310.0 796.4 305.3 798.2 305.3 C799.6 305.3 800.2 311.4 801.6 312.0 C804.2 312.6 805.6 312.0 808.2 312.6 C811.9 313.2 813.8 318.0 817.5 318.0 C819.6 318.0 820.7 313.3 822.8 313.3 C825.0 313.3 826.0 314.7 828.2 316.0 C830.8 317.6 832.2 320.6 834.8 320.6 C836.9 320.6 838.0 316.0 840.1 316.0 C842.1 316.0 843.0 320.9 845.0 320.9 C846.6 320.9 847.4 320.9 849.0 319.6 C850.6 318.3 851.4 313.9 853.0 311.6 C855.1 308.6 856.2 306.3 858.3 306.3 C860.4 306.3 861.5 313.4 863.6 316.9 C866.3 321.3 867.6 326.2 870.3 326.2 C872.4 326.2 873.5 320.0 875.6 316.9 C877.5 314.2 878.4 311.6 880.3 311.6 C882.1 311.6 883.1 316.1 884.9 318.3 C887.0 320.9 888.1 323.6 890.2 323.6 C894.5 323.6 896.6 323.6 900.9 323.6 C903.0 323.6 904.1 318.9 906.2 316.3 C907.8 314.4 908.6 312.3 910.2 312.3 C911.8 312.3 912.6 318.3 914.2 320.3 C917.4 324.4 919.0 327.6 922.2 327.6 C924.3 327.6 925.4 323.6 927.5 320.9 C929.6 318.2 930.7 316.8 932.8 314.3 C934.9 311.8 936.0 308.3 938.1 308.3 C940.2 308.3 941.3 313.4 943.4 314.9 C946.1 316.8 947.4 315.3 950.1 316.9 C952.7 318.5 954.1 321.2 956.7 322.9 C959.4 324.7 960.7 325.6 963.4 325.6 C966.0 325.6 967.4 320.3 970.0 320.3 C972.7 320.3 974.0 324.3 976.7 325.6 C980.4 327.4 982.3 328.2 986.0 328.2 C988.1 328.2 989.2 326.8 991.3 324.9 C995.0 321.5 996.9 314.9 1000.6 314.9 C1002.8 314.9 1003.8 315.3 1006.0 316.9 C1009.2 319.3 1010.8 324.9 1014.0 324.9 C1016.4 324.9 1017.6 322.4 1020.0 319.9 C1023.2 316.6 1024.8 314.5 1028.0 310.6 C1030.9 307.1 1032.4 301.3 1035.3 301.3 C1038.2 301.3 1039.7 310.8 1042.6 311.9 C1045.6 313.0 1047.0 312.7 1050.0 313.0 C1054.0 313.3 1055.9 313.0 1059.9 313.3 C1063.6 313.6 1065.5 317.2 1069.2 317.2 C1071.3 317.2 1072.4 313.9 1074.5 313.9 C1077.2 313.9 1078.5 318.6 1081.2 318.6 C1085.4 318.6 1087.6 310.6 1091.8 310.6 C1095.5 310.6 1097.4 316.6 1101.1 316.6 C1103.8 316.6 1105.1 312.9 1107.8 311.3 C1109.9 310.0 1111.0 310.8 1113.1 309.3 C1115.2 307.8 1116.3 305.3 1118.4 303.9 C1121.1 302.1 1122.4 302.6 1125.1 301.3 C1127.2 300.3 1128.3 298.0 1130.4 298.0 C1132.5 298.0 1133.6 305.3 1135.7 305.3 C1137.3 305.3 1138.1 304.9 1139.7 303.3 C1142.6 300.4 1144.1 294.0 1147.0 294.0 C1149.4 294.0 1150.6 296.8 1153.0 298.6 C1156.2 301.0 1157.8 302.2 1161.0 304.6 C1163.1 306.2 1164.2 306.6 1166.3 308.6 C1169.0 311.1 1170.3 314.6 1173.0 315.9 C1175.1 317.2 1176.2 317.2 1178.3 317.2 C1179.0 317.2 1179.3 315.3 1180.0 313.9 C1182.0 309.9 1183.0 307.1 1185.0 303.8 C1187.0 300.5 1188.0 300.2 1190.0 297.5 C1191.8 295.2 1192.6 294.7 1194.4 291.3 C1196.1 288.0 1196.9 280.8 1198.6 280.8 C1201.2 280.8 1202.5 292.6 1205.1 293.8 C1206.1 295.0 1206.6 295.0 1207.6 295.0 C1212.6 295.0 1215.2 292.0 1220.2 290.0 C1223.3 288.8 1224.9 287.0 1228.0 287.0 C1231.4 287.0 1233.1 290.6 1236.5 290.6 C1239.6 290.6 1241.1 287.7 1244.2 287.7 C1246.2 287.7 1247.1 289.7 1249.1 291.3 C1251.6 293.4 1252.9 296.9 1255.4 296.9 C1258.9 296.9 1260.7 295.0 1264.2 295.0 C1268.2 295.0 1270.2 299.2 1274.2 302.6 C1277.2 305.2 1278.8 307.8 1281.8 310.1 C1283.8 311.6 1284.8 310.7 1286.8 312.0 C1289.8 314.0 1291.3 318.3 1294.3 318.3 C1295.8 318.3 1296.6 311.4 1298.1 311.4 C1301.1 311.4 1302.6 317.6 1305.6 317.6 C1308.1 317.6 1309.4 314.1 1311.9 312.6 C1313.4 311.7 1314.2 312.6 1315.7 311.4 C1318.7 310.2 1320.2 304.2 1323.2 300.1 C1325.7 296.6 1327.0 296.3 1329.5 292.5 C1330.5 290.9 1331.1 286.8 1332.1 286.8 C1334.3 286.8 1337.6 289.5 1337.6 289.5" fill="none" stroke="#6b8abc" stroke-width="4" stroke-linejoin="round" stroke-linecap="round"/>
<path d="M70.0 342.3 C70.0 342.3 72.4 340.0 74.0 340.0 C77.2 340.0 78.8 340.0 82.0 340.0 C85.2 340.0 86.8 341.4 90.0 342.0 C92.8 342.5 94.2 342.6 97.0 342.6 C98.4 342.6 99.2 330.6 100.6 330.6 C101.4 330.6 101.8 337.6 102.6 340.0 C103.4 342.4 103.8 342.0 104.6 342.6 C108.4 343.2 110.2 343.2 114.0 343.2 C117.2 343.2 118.8 342.6 122.0 342.6 C123.8 342.6 124.7 345.2 126.5 345.2 C127.8 345.2 128.5 338.0 129.8 338.0 C131.9 338.0 132.9 338.0 135.0 338.0 C137.2 338.0 138.3 337.7 140.5 336.6 C142.6 335.5 143.7 333.9 145.8 332.6 C148.5 331.0 149.8 329.3 152.5 329.3 C154.6 329.3 155.7 329.5 157.8 330.0 C159.9 330.5 160.9 332.0 163.0 332.0 C164.1 332.0 164.7 326.0 165.8 326.0 C166.8 326.0 167.4 326.9 168.4 330.6 C168.9 332.5 169.2 340.0 169.7 340.0 C172.9 340.0 174.5 340.0 177.7 340.0 C179.8 340.0 180.9 338.8 183.0 338.8 C184.4 338.8 185.0 341.2 186.4 341.2 C187.7 341.2 188.4 338.6 189.7 338.6 C191.8 338.6 192.9 338.9 195.0 339.2 C197.1 339.5 198.2 340.0 200.3 340.0 C202.5 340.0 203.5 336.0 205.7 336.0 C208.3 336.0 209.7 337.9 212.3 338.6 C214.4 339.2 215.5 338.6 217.6 339.2 C219.8 339.8 220.8 342.6 223.0 342.6 C225.1 342.6 226.2 341.4 228.3 340.6 C229.0 340.3 229.3 340.0 230.0 340.0 C232.7 340.0 234.0 342.0 236.7 343.2 C238.8 344.1 239.9 345.2 242.0 345.2 C244.6 345.2 246.0 341.7 248.6 340.6 C251.8 339.3 253.4 339.2 256.6 339.2 C259.3 339.2 260.6 339.8 263.3 340.6 C267.0 341.7 268.9 343.9 272.6 343.9 C275.2 343.9 276.6 339.2 279.2 339.2 C281.9 339.2 283.2 340.0 285.9 340.0 C288.0 340.0 289.1 337.2 291.2 337.2 C294.4 337.2 296.0 338.8 299.2 340.0 C301.8 341.0 303.2 342.6 305.8 342.6 C308.5 342.6 309.8 340.0 312.5 340.0 C314.6 340.0 315.7 340.6 317.8 340.6 C319.4 340.6 320.2 336.0 321.8 336.0 C323.4 336.0 324.2 342.6 325.8 342.6 C327.1 342.6 327.8 338.6 329.1 337.9 C331.5 337.2 332.7 337.9 335.1 337.2 C336.7 336.5 337.5 334.6 339.1 334.6 C341.2 334.6 342.3 336.0 344.4 336.0 C346.5 336.0 347.6 333.7 349.7 332.6 C352.9 331.0 354.5 331.1 357.7 329.3 C360.6 327.7 362.1 324.0 365.0 324.0 C366.4 324.0 367.0 325.4 368.4 326.0 C370.5 326.6 371.6 326.0 373.7 326.6 C375.3 327.2 376.1 329.8 377.7 330.6 C380.3 331.9 381.7 332.0 384.3 332.0 C387.5 332.0 389.1 330.8 392.3 330.0 C394.4 329.5 395.5 328.6 397.6 328.6 C399.2 328.6 400.0 330.6 401.6 330.6 C402.5 330.6 402.9 328.3 403.8 327.8 C405.4 326.8 406.2 326.8 407.8 326.8 C408.7 326.8 409.1 326.8 410.0 328.0 C411.6 329.2 412.4 335.3 414.0 335.3 C416.6 335.3 418.0 331.9 420.6 330.6 C423.3 329.2 424.6 328.6 427.3 328.6 C431.0 328.6 432.9 330.0 436.6 330.0 C438.7 330.0 439.8 327.3 441.9 327.3 C443.5 327.3 444.3 331.3 445.9 331.3 C447.5 331.3 448.3 329.8 449.9 329.3 C452.6 328.5 453.9 329.1 456.6 328.0 C459.2 326.9 460.6 325.1 463.2 324.0 C465.9 322.9 467.2 323.0 469.9 322.6 C472.5 322.2 473.9 322.6 476.5 322.0 C478.6 321.4 479.7 319.3 481.8 319.3 C483.4 319.3 484.2 322.5 485.8 324.6 C487.4 326.7 488.2 330.0 489.8 330.0 C491.9 330.0 493.0 327.9 495.1 327.9 C498.3 327.9 499.9 328.6 503.1 328.6 C504.7 328.6 505.5 324.0 507.1 324.0 C508.7 324.0 509.5 329.9 511.1 330.6 C513.2 331.3 514.3 331.1 516.4 331.3 C519.1 331.6 520.4 331.3 523.1 331.9 C524.7 332.5 525.5 334.8 527.1 335.9 C528.7 337.0 529.5 337.2 531.1 337.2 C533.7 337.2 535.1 333.9 537.7 333.9 C539.8 333.9 540.9 333.9 543.0 334.6 C544.6 335.3 545.4 340.0 547.0 340.6 C549.7 341.2 551.0 340.9 553.7 341.2 C556.3 341.5 557.7 341.9 560.3 341.9 C561.9 341.9 562.7 341.0 564.3 339.2 C566.2 337.0 567.1 331.9 569.0 331.9 C570.8 331.9 571.8 338.1 573.6 339.9 C576.2 342.4 577.4 342.6 580.0 342.6 C582.7 342.6 584.0 342.6 586.7 342.6 C588.3 342.6 589.0 337.2 590.6 337.2 C591.7 337.2 592.2 339.8 593.3 341.2 C596.0 342.6 597.3 342.6 600.0 342.6 C601.6 342.6 602.4 337.3 604.0 335.3 C605.6 333.3 606.4 332.6 608.0 332.6 C609.6 332.6 610.4 335.3 612.0 335.3 C614.6 335.3 616.0 334.1 618.6 331.9 C620.7 330.1 621.8 325.3 623.9 325.3 C625.5 325.3 626.3 326.6 627.9 328.6 C630.0 331.3 631.1 334.7 633.2 337.2 C635.3 339.7 636.4 340.2 638.5 341.2 C641.7 342.6 643.3 342.7 646.5 343.2 C649.7 343.7 651.3 343.9 654.5 343.9 C657.1 343.9 658.5 343.9 661.1 343.9 C662.7 343.9 663.5 342.3 665.1 341.2 C666.5 340.2 667.1 338.6 668.5 338.6 C669.8 338.6 670.5 342.0 671.8 342.6 C673.4 343.2 674.2 343.2 675.8 343.2 C679.0 343.2 680.6 343.1 683.8 342.6 C687.0 342.1 688.5 341.6 691.7 340.6 C693.9 340.0 694.9 339.2 697.1 338.6 C699.7 337.9 701.1 337.2 703.7 337.2 C709.0 337.2 711.7 337.6 717.0 337.9 C720.7 338.1 722.6 338.3 726.3 338.6 C729.0 338.8 730.3 339.2 733.0 339.2 C735.6 339.2 737.0 338.6 739.6 337.9 C741.8 337.3 742.8 336.4 745.0 335.9 C749.0 334.9 751.0 334.9 755.0 334.0 C758.2 333.3 759.8 333.6 763.0 332.0 C765.6 330.7 767.0 328.5 769.6 326.6 C771.8 325.0 772.8 324.0 775.0 323.3 C777.6 322.6 779.0 322.6 781.6 322.6 C784.3 322.6 785.6 323.3 788.3 326.0 C789.3 327.1 789.9 330.0 790.9 332.0 C794.5 334.0 796.4 334.0 800.0 334.0 C805.4 334.0 808.1 333.1 813.5 332.6 C817.2 332.3 819.1 331.9 822.8 331.9 C827.6 331.9 830.0 332.6 834.8 332.6 C838.9 332.6 840.9 331.5 845.0 330.9 C850.3 330.1 853.0 328.9 858.3 328.9 C863.6 328.9 866.3 329.8 871.6 330.2 C875.9 330.6 878.0 330.9 882.3 330.9 C887.1 330.9 889.4 327.6 894.2 327.6 C896.9 327.6 898.2 330.2 900.9 330.2 C905.7 330.2 908.0 328.9 912.8 328.9 C915.5 328.9 916.8 330.2 919.5 330.2 C922.1 330.2 923.5 324.2 926.1 324.2 C928.3 324.2 929.3 326.2 931.5 326.2 C933.6 326.2 934.7 320.9 936.8 320.9 C938.9 320.9 940.0 324.3 942.1 326.2 C944.8 328.6 946.1 331.6 948.8 331.6 C950.4 331.6 951.2 330.9 952.8 330.9 C954.9 330.9 956.0 333.6 958.1 333.6 C960.7 333.6 962.1 333.6 964.7 332.9 C967.9 332.2 969.5 330.7 972.7 328.9 C974.8 327.7 975.9 325.6 978.0 325.6 C979.6 325.6 980.4 326.3 982.0 327.6 C983.6 328.9 984.4 332.2 986.0 332.2 C988.1 332.2 989.2 332.2 991.3 332.2 C994.0 332.2 995.3 330.9 998.0 330.9 C1000.1 330.9 1001.2 330.9 1003.3 330.9 C1005.4 330.9 1006.5 334.2 1008.6 334.9 C1012.4 335.6 1014.2 334.9 1018.0 335.6 C1018.8 336.3 1019.2 337.2 1020.0 337.2 C1024.2 337.2 1026.4 333.9 1030.6 333.9 C1033.6 333.9 1035.0 337.0 1038.0 337.0 C1041.4 337.0 1043.2 331.2 1046.6 331.2 C1048.7 331.2 1049.8 333.9 1051.9 333.9 C1055.1 333.9 1056.7 329.9 1059.9 329.9 C1063.6 329.9 1065.5 334.5 1069.2 334.5 C1072.4 334.5 1074.0 334.5 1077.2 334.5 C1080.9 334.5 1082.8 334.5 1086.5 334.5 C1089.7 334.5 1091.3 333.2 1094.5 333.2 C1097.7 333.2 1099.3 333.9 1102.5 333.9 C1106.7 333.9 1108.9 328.6 1113.1 328.6 C1116.3 328.6 1117.9 333.2 1121.1 333.2 C1123.2 333.2 1124.3 331.2 1126.4 331.2 C1129.6 331.2 1131.2 335.9 1134.4 335.9 C1136.5 335.9 1137.6 334.5 1139.7 334.5 C1142.9 334.5 1144.5 334.8 1147.7 335.2 C1150.9 335.6 1152.5 336.5 1155.7 336.5 C1158.9 336.5 1160.5 332.5 1163.7 331.2 C1167.4 329.9 1169.3 331.0 1173.0 329.9 C1175.8 329.1 1177.2 326.4 1180.0 326.4 C1183.0 326.4 1184.5 328.5 1187.5 330.2 C1191.5 332.5 1193.6 336.5 1197.6 336.5 C1200.6 336.5 1202.1 333.5 1205.1 331.5 C1208.1 329.5 1209.7 327.0 1212.7 326.4 C1215.7 325.8 1217.2 325.8 1220.2 325.8 C1222.2 325.8 1223.2 329.6 1225.2 329.6 C1226.7 329.6 1227.5 327.1 1229.0 327.1 C1232.0 327.1 1233.5 330.8 1236.5 330.8 C1240.0 330.8 1241.8 325.2 1245.3 325.2 C1247.3 325.2 1248.4 329.6 1250.4 329.6 C1253.4 329.6 1254.9 328.2 1257.9 326.4 C1260.9 324.6 1262.4 320.8 1265.4 320.8 C1268.4 320.8 1270.0 320.8 1273.0 320.8 C1275.0 320.8 1276.0 323.9 1278.0 323.9 C1279.5 323.9 1280.3 323.0 1281.8 320.8 C1283.0 319.0 1283.7 313.9 1284.9 313.9 C1287.2 313.9 1288.3 316.6 1290.6 318.3 C1293.6 320.6 1295.1 323.9 1298.1 323.9 C1301.1 323.9 1302.6 322.7 1305.6 322.7 C1308.1 322.7 1309.4 327.1 1311.9 327.1 C1313.4 327.1 1314.2 325.2 1315.7 325.2 C1318.7 325.2 1320.2 327.1 1323.2 327.1 C1326.2 327.1 1327.8 323.9 1330.8 323.9 C1333.3 323.9 1337.0 325.8 1337.0 325.8" fill="none" stroke="#d568fb" stroke-width="4" stroke-linejoin="round" stroke-linecap="round"/>
<path d="M556.0 354.5 C556.0 354.5 565.8 353.5 572.4 352.8 C576.6 352.4 578.6 352.0 582.8 351.7 C586.9 351.4 588.9 351.4 593.0 351.2 C597.2 351.0 599.3 350.8 603.5 350.7 C607.6 350.6 609.7 350.7 613.8 350.5 C615.9 350.3 616.9 348.6 619.0 348.6 C621.9 348.6 623.3 348.6 626.2 348.6 C628.7 348.6 630.0 344.5 632.5 344.5 C636.0 344.5 637.7 346.5 641.2 347.2 C645.4 347.9 647.6 347.9 651.8 347.9 C656.1 347.9 658.2 347.5 662.5 347.2 C666.7 346.9 668.9 346.8 673.1 346.6 C678.4 346.3 681.1 346.5 686.4 345.9 C690.7 345.4 692.8 345.7 697.1 343.9 C699.2 343.0 700.3 339.8 702.4 339.2 C705.6 338.6 707.2 338.6 710.4 338.6 C714.1 338.6 716.0 341.2 719.7 341.2 C722.3 341.2 723.7 339.9 726.3 339.9 C729.0 339.9 730.3 341.2 733.0 341.2 C735.6 341.2 737.0 340.4 739.6 339.9 C742.3 339.4 743.6 338.6 746.3 338.6 C749.8 338.6 751.5 338.8 755.0 339.0 C759.0 339.2 761.0 339.5 765.0 339.5 C769.0 339.5 771.0 339.5 775.0 339.2 C780.3 338.8 783.0 337.9 788.3 337.9 C792.5 337.9 794.7 338.7 798.9 339.9 C801.6 340.6 802.9 342.6 805.6 342.6 C809.3 342.6 811.2 342.6 814.9 342.6 C818.6 342.6 820.5 341.8 824.2 341.2 C828.4 340.5 830.6 340.0 834.8 339.2 C837.5 338.7 838.8 338.3 841.5 337.9 C842.9 337.7 843.6 337.6 845.0 337.6 C850.3 337.6 853.0 337.6 858.3 337.6 C863.6 337.6 866.3 337.1 871.6 337.0 C881.2 336.9 885.9 336.9 895.5 336.9 C901.9 336.9 905.1 342.2 911.5 342.9 C915.8 343.6 917.9 343.2 922.2 343.6 C927.3 344.1 929.9 344.2 935.0 345.0 C941.6 346.0 944.8 346.9 951.4 348.2 C955.7 349.0 957.8 350.2 962.1 350.2 C965.3 350.2 966.8 350.0 970.0 349.6 C975.9 348.9 978.8 347.6 984.7 347.6 C990.0 347.6 992.7 347.6 998.0 347.6 C1003.3 347.6 1006.0 348.9 1011.3 348.9 C1016.8 348.9 1019.5 346.9 1025.0 346.9 C1027.0 346.9 1028.0 349.0 1030.0 349.5 C1033.4 350.4 1035.2 350.6 1038.6 350.6 C1039.4 350.6 1039.8 348.8 1040.6 340.0 C1041.2 333.8 1041.4 313.0 1042.0 313.0 C1042.2 313.0 1042.4 313.1 1042.6 313.3 C1044.8 315.1 1045.8 317.9 1048.0 317.9 C1051.2 317.9 1052.8 307.9 1056.0 307.9 C1058.6 307.9 1060.0 312.3 1062.6 314.6 C1065.2 316.9 1066.6 318.5 1069.2 319.2 C1072.4 319.9 1074.0 319.6 1077.2 319.9 C1079.3 320.1 1080.4 320.6 1082.5 320.6 C1085.7 320.6 1087.3 311.3 1090.5 311.3 C1093.2 311.3 1094.5 315.3 1097.2 317.2 C1099.3 318.7 1100.4 319.9 1102.5 319.9 C1105.7 319.9 1107.3 313.9 1110.5 313.9 C1113.7 313.9 1115.2 313.9 1118.4 313.9 C1121.6 313.9 1123.2 303.9 1126.4 303.9 C1129.6 303.9 1131.2 312.6 1134.4 312.6 C1137.6 312.6 1139.2 303.3 1142.4 303.3 C1144.0 303.3 1144.8 305.3 1146.4 305.3 C1148.5 305.3 1149.6 302.0 1151.7 302.0 C1154.9 302.0 1156.5 307.5 1159.7 309.9 C1161.8 311.5 1162.9 310.3 1165.0 311.9 C1168.2 314.3 1169.8 319.9 1173.0 319.9 C1175.8 319.9 1177.2 319.9 1180.0 318.9 C1182.0 317.9 1183.0 313.9 1185.0 313.9 C1187.0 313.9 1188.0 318.3 1190.0 318.3 C1191.8 318.3 1192.6 312.6 1194.4 312.6 C1196.7 312.6 1197.8 315.3 1200.1 317.6 C1202.1 319.6 1203.1 321.5 1205.1 323.3 C1208.1 326.1 1209.7 326.6 1212.7 329.0 C1215.7 331.4 1217.2 333.8 1220.2 335.2 C1224.2 337.1 1226.3 335.9 1230.3 337.1 C1233.3 338.0 1234.8 339.2 1237.8 340.3 C1240.8 341.4 1242.3 342.8 1245.3 342.8 C1248.8 342.8 1250.6 337.7 1254.1 337.7 C1257.1 337.7 1258.7 341.5 1261.7 341.5 C1265.9 341.5 1268.1 331.5 1272.3 331.5 C1275.1 331.5 1276.5 337.7 1279.3 337.7 C1282.3 337.7 1283.8 337.1 1286.8 337.1 C1289.8 337.1 1291.3 337.1 1294.3 337.1 C1297.3 337.1 1298.9 329.0 1301.9 329.0 C1304.4 329.0 1305.7 329.9 1308.2 331.5 C1310.7 333.1 1311.9 337.1 1314.4 337.1 C1317.4 337.1 1319.0 332.5 1322.0 330.2 C1325.0 328.0 1326.5 325.8 1329.5 325.8 C1331.5 325.8 1332.5 325.8 1334.5 326.4 C1335.8 327.0 1337.7 330.2 1337.7 330.2" fill="none" stroke="#2ee0ca" stroke-width="4" stroke-linejoin="round" stroke-linecap="round"/>
<path d="M70.0 328.6 C70.0 328.6 72.4 329.7 74.0 330.6 C76.1 331.8 77.2 333.2 79.3 334.0 C82.0 335.0 83.3 334.2 86.0 335.3 C88.4 336.3 89.6 339.2 92.0 339.2 C93.8 339.2 94.8 339.2 96.6 338.8 C98.8 338.4 99.8 337.7 102.0 337.2 C104.6 336.6 105.9 336.8 108.5 336.2 C110.7 335.7 111.7 334.9 113.9 334.3 C116.0 333.7 117.1 333.8 119.2 333.3 C121.8 332.7 123.2 331.7 125.8 331.7 C128.5 331.7 129.8 332.0 132.5 332.0 C135.1 332.0 136.4 331.5 139.0 331.5 C140.6 331.5 141.4 333.3 143.0 333.3 C146.2 333.3 147.8 332.0 151.0 332.0 C154.2 332.0 155.8 332.6 159.0 332.6 C161.2 332.6 162.2 332.5 164.4 331.3 C166.0 330.4 166.8 327.3 168.4 327.3 C172.1 327.3 174.0 328.6 177.7 328.6 C179.3 328.6 180.1 327.7 181.7 326.6 C183.8 325.1 184.9 322.0 187.0 322.0 C189.2 322.0 190.2 322.0 192.4 322.6 C193.7 323.2 194.4 329.3 195.7 329.3 C197.3 329.3 198.1 328.2 199.7 327.3 C201.5 326.3 202.5 324.6 204.3 324.6 C206.5 324.6 207.5 327.4 209.7 328.0 C211.0 328.6 211.7 328.0 213.0 328.6 C214.8 329.2 215.8 333.8 217.6 334.0 C500.5 334.2 641.9 334.2 924.8 334.2 C928.0 334.2 929.6 332.8 932.8 332.2 C934.9 331.8 936.0 331.6 938.1 331.6 C940.2 331.6 941.3 335.6 943.4 335.6 C945.6 335.6 946.6 334.2 948.8 334.2 C951.4 334.2 952.8 334.6 955.4 334.9 C958.1 335.2 959.4 334.9 962.1 335.6 C965.3 336.3 966.8 338.9 970.0 338.9 C972.7 338.9 974.0 335.6 976.7 335.6 C979.4 335.6 980.7 337.5 983.4 337.5 C985.5 337.5 986.6 335.8 988.7 334.9 C991.3 333.7 992.7 332.2 995.3 332.2 C998.0 332.2 999.3 334.1 1002.0 335.6 C1004.6 337.0 1006.0 339.5 1008.6 339.5 C1010.8 339.5 1011.8 338.2 1014.0 338.2 C1016.4 338.2 1017.6 339.9 1020.0 339.9 C1022.1 339.9 1023.2 338.6 1025.3 338.6 C1028.0 338.6 1029.3 341.9 1032.0 341.9 C1034.1 341.9 1035.2 339.8 1037.3 338.6 C1040.0 337.1 1041.3 335.3 1044.0 335.3 C1046.6 335.3 1048.0 338.1 1050.6 339.9 C1052.7 341.3 1053.8 343.3 1055.9 343.3 C1059.1 343.3 1060.7 341.6 1063.9 340.6 C1066.6 339.7 1067.9 338.6 1070.6 338.6 C1074.3 338.6 1076.2 339.9 1079.9 339.9 C1083.6 339.9 1085.5 338.6 1089.2 338.6 C1093.4 338.6 1095.6 339.3 1099.8 339.3 C1101.9 339.3 1103.0 338.6 1105.1 338.6 C1108.3 338.6 1109.9 341.9 1113.1 341.9 C1117.4 341.9 1119.5 335.9 1123.8 335.9 C1127.0 335.9 1128.5 337.4 1131.7 338.6 C1134.4 339.6 1135.7 341.3 1138.4 341.3 C1141.6 341.3 1143.2 335.3 1146.4 335.3 C1149.0 335.3 1150.4 336.8 1153.0 337.9 C1156.2 339.2 1157.8 341.3 1161.0 341.3 C1164.2 341.3 1165.8 337.9 1169.0 337.9 C1171.6 337.9 1173.0 338.6 1175.6 338.6 C1177.4 338.6 1178.2 337.0 1180.0 336.0 C1182.0 334.8 1183.0 333.0 1185.0 333.0 C1188.0 333.0 1189.6 336.1 1192.6 337.6 C1196.6 339.6 1198.6 341.8 1202.6 341.8 C1207.6 341.8 1210.0 341.8 1215.0 341.8 C1217.6 341.8 1218.9 341.0 1221.5 340.3 C1224.0 339.7 1225.2 338.6 1227.7 338.6 C1231.2 338.6 1233.0 342.0 1236.5 342.0 C1240.0 342.0 1241.8 338.3 1245.3 338.3 C1249.3 338.3 1251.4 342.0 1255.4 342.0 C1260.4 342.0 1263.0 335.2 1268.0 335.2 C1271.5 335.2 1273.2 341.0 1276.7 341.0 C1279.7 341.0 1281.3 340.0 1284.3 338.0 C1288.3 335.4 1290.3 329.5 1294.3 329.5 C1297.8 329.5 1299.6 333.2 1303.1 335.5 C1306.1 337.5 1307.7 339.4 1310.7 340.2 C1313.7 341.0 1315.2 341.0 1318.2 341.0 C1320.7 341.0 1322.0 340.7 1324.5 340.2 C1327.0 339.7 1328.3 339.2 1330.8 338.4 C1333.5 337.5 1337.5 336.0 1337.5 336.0" fill="none" stroke="#fa4b42" stroke-width="4" stroke-linejoin="round" stroke-linecap="round"/>
<path d="M70.0 296.0 C70.0 296.0 73.6 294.4 76.0 293.0 C79.2 291.2 80.8 288.0 84.0 288.0 C85.6 288.0 86.4 288.0 88.0 288.0 C89.6 288.0 90.4 290.0 92.0 290.0 C94.0 290.0 95.0 287.5 97.0 287.5 C100.6 287.5 102.4 294.0 106.0 295.5 C110.0 297.0 112.0 297.0 116.0 297.0 C120.4 297.0 122.6 271.0 127.0 271.0 C129.0 271.0 130.0 271.0 132.0 271.5 C134.8 272.0 136.2 283.5 139.0 283.5 C141.0 283.5 142.0 277.0 144.0 277.0 C146.0 277.0 147.0 279.5 149.0 279.5 C151.8 279.5 153.2 279.5 156.0 277.0 C158.0 274.5 159.0 259.6 161.0 259.6 C163.0 259.6 164.0 274.0 166.0 274.0 C167.6 274.0 168.4 270.0 170.0 270.0 C173.2 270.0 174.8 271.0 178.0 274.0 C180.0 275.8 181.0 282.0 183.0 282.0 C185.0 282.0 186.0 281.0 188.0 281.0 C189.2 281.0 189.8 286.0 191.0 286.0 C194.6 286.0 196.4 269.0 200.0 269.0 C202.4 269.0 203.6 270.0 206.0 270.0 C207.2 270.0 207.8 262.0 209.0 262.0 C210.6 262.0 211.4 285.0 213.0 285.0 C215.0 285.0 216.0 258.0 218.0 258.0 C219.6 258.0 220.4 260.0 222.0 263.0 C225.0 268.6 226.6 279.5 229.6 279.5 C232.0 279.5 233.2 275.0 235.6 275.0 C237.2 275.0 238.0 276.0 239.6 276.0 C241.2 276.0 242.0 268.0 243.6 268.0 C245.2 268.0 246.0 288.0 247.6 288.0 C249.6 288.0 250.6 288.0 252.6 288.0 C254.6 288.0 255.6 278.6 257.6 275.0 C259.2 272.2 260.0 274.3 261.6 272.0 C264.4 267.9 265.7 259.0 268.5 259.0 C270.5 259.0 271.5 259.0 273.5 261.0 C275.1 263.0 275.9 285.0 277.5 285.0 C279.5 285.0 280.5 266.0 282.5 266.0 C283.7 266.0 284.3 266.7 285.5 270.0 C287.5 275.5 288.5 287.0 290.5 288.0 C294.1 289.0 295.9 288.0 299.5 289.0 C303.5 290.0 305.5 293.9 309.5 297.0 C312.7 299.5 314.2 303.0 317.4 303.0 C318.4 303.0 319.0 300.9 320.0 300.9 C323.2 300.9 324.8 301.4 328.0 302.9 C330.8 304.2 332.2 307.9 335.0 307.9 C337.8 307.9 339.2 307.8 342.0 305.9 C345.2 303.8 346.8 297.9 350.0 297.9 C352.8 297.9 354.2 298.1 357.0 298.9 C358.6 299.3 359.4 300.9 361.0 300.9 C362.6 300.9 363.3 297.9 364.9 297.9 C366.9 297.9 367.9 300.9 369.9 300.9 C373.1 300.9 374.7 299.9 377.9 299.9 C379.5 299.9 380.3 305.9 381.9 306.9 C384.7 307.9 386.0 307.9 388.8 307.9 C391.6 307.9 393.0 307.9 395.8 307.9 C399.0 307.9 400.6 315.9 403.8 315.9 C405.8 315.9 406.8 312.2 408.8 307.9 C409.3 306.9 409.5 304.1 410.0 302.7 C412.7 301.3 414.0 301.3 416.7 301.3 C422.0 301.3 424.7 302.5 430.0 305.3 C433.2 307.0 434.7 312.6 437.9 312.6 C440.1 312.6 441.1 312.0 443.3 312.0 C445.4 312.0 446.5 314.4 448.6 316.6 C451.2 319.4 452.6 324.6 455.2 324.6 C456.8 324.6 457.6 316.6 459.2 316.6 C460.8 316.6 461.6 317.2 463.2 318.6 C465.3 320.4 466.4 324.6 468.5 324.6 C471.2 324.6 472.5 324.6 475.2 324.0 C478.4 323.4 480.0 319.2 483.2 318.6 C485.8 318.0 487.2 318.6 489.8 318.0 C491.7 317.4 492.6 314.6 494.5 314.6 C495.8 314.6 496.5 319.3 497.8 321.3 C499.9 323.3 501.0 321.3 503.1 323.3 C505.0 325.3 505.9 331.9 507.8 331.9 C509.4 331.9 510.2 325.4 511.8 324.0 C513.6 322.6 514.6 323.3 516.4 322.6 C518.0 322.0 518.8 320.6 520.4 320.6 C522.5 320.6 523.6 322.9 525.7 324.0 C528.4 325.3 529.7 325.7 532.4 326.6 C534.5 327.3 535.6 327.9 537.7 327.9 C539.3 327.9 540.1 324.6 541.7 324.6 C544.4 324.6 545.7 334.6 548.4 334.6 C551.6 334.6 553.1 334.6 556.3 334.3 C559.2 334.0 560.7 329.5 563.6 329.5 C566.0 329.5 567.2 338.6 569.6 338.6 C572.3 338.6 573.6 338.1 576.3 337.2 C577.8 336.7 578.5 336.0 580.0 335.3 C583.2 334.6 584.8 334.9 588.0 334.6 C592.2 334.1 594.4 333.3 598.6 333.3 C600.8 333.3 601.8 333.7 604.0 334.6 C605.6 335.3 606.4 337.2 608.0 337.2 C610.1 337.2 611.2 333.4 613.3 331.9 C615.9 330.0 617.3 328.6 619.9 328.6 C622.0 328.6 623.1 328.7 625.2 329.9 C627.4 331.1 628.4 334.6 630.6 334.6 C631.9 334.6 632.6 330.6 633.9 330.6 C635.2 330.6 635.9 334.1 637.2 335.3 C638.8 336.7 639.6 337.2 641.2 337.2 C644.4 337.2 646.0 335.9 649.2 335.9 C653.4 335.9 655.6 335.9 659.8 335.9 C664.1 335.9 666.2 335.3 670.5 335.3 C673.1 335.3 674.5 338.6 677.1 338.6 C678.7 338.6 679.5 334.6 681.1 334.6 C684.8 334.6 686.7 334.8 690.4 335.3 C693.1 335.6 694.4 335.8 697.1 336.6 C699.7 337.4 701.1 338.4 703.7 339.2 C706.9 340.2 708.5 339.6 711.7 341.2 C713.8 342.3 714.9 344.7 717.0 345.9 C719.7 347.4 721.0 347.9 723.7 347.9 C725.3 347.9 726.1 345.2 727.7 345.2 C729.8 345.2 730.9 347.2 733.0 347.2 C734.6 347.2 735.4 342.6 737.0 342.6 C739.6 342.6 741.0 342.6 743.6 342.6 C745.8 342.6 746.8 335.9 749.0 335.9 C750.6 335.9 751.4 342.6 753.0 342.6 C753.8 342.6 754.2 338.6 755.0 337.9 C757.7 337.2 759.0 337.2 761.7 337.2 C763.3 337.2 764.0 338.6 765.6 338.6 C767.8 338.6 768.8 335.3 771.0 335.3 C772.6 335.3 773.4 342.0 775.0 342.6 C777.6 343.2 779.0 343.2 781.6 343.2 C784.8 343.2 786.4 341.0 789.6 339.9 C791.7 339.2 792.8 339.2 794.9 338.6 C797.6 337.9 798.9 336.6 801.6 336.6 C803.2 336.6 804.0 337.9 805.6 337.9 C807.7 337.9 808.8 335.3 810.9 335.3 C813.5 335.3 814.9 335.3 817.5 335.9 C819.6 336.5 820.7 339.2 822.8 339.2 C825.0 339.2 826.0 336.5 828.2 335.3 C830.8 333.8 832.2 332.6 834.8 332.6 C837.5 332.6 838.8 334.6 841.5 334.6 C842.9 334.6 843.6 333.6 845.0 333.6 C850.3 333.6 853.0 333.6 858.3 333.6 C863.6 333.6 866.3 333.6 871.6 332.9 C873.2 332.2 874.0 330.3 875.6 330.3 C876.7 330.3 877.2 335.6 878.3 335.6 C883.6 335.6 886.3 332.3 891.6 332.3 C896.9 332.3 899.6 335.0 904.9 336.9 C909.1 338.4 911.3 339.3 915.5 340.9 C918.2 341.9 919.5 343.6 922.2 343.6 C924.3 343.6 925.4 336.3 927.5 336.3 C929.1 336.3 929.9 341.6 931.5 341.6 C933.1 341.6 933.9 335.6 935.5 335.6 C937.1 335.6 937.9 342.2 939.5 344.9 C941.6 347.6 942.7 347.6 944.8 347.6 C947.4 347.6 948.8 344.9 951.4 344.9 C956.7 344.9 959.4 346.2 964.7 346.2 C970.0 346.2 972.7 345.9 978.0 345.6 C983.3 345.3 986.0 345.4 991.3 344.9 C994.0 344.6 995.3 343.6 998.0 343.6 C1003.3 343.6 1006.0 344.8 1011.3 346.2 C1014.8 347.1 1016.5 348.5 1020.0 349.2 C1025.3 349.9 1028.0 349.9 1033.3 349.9 C1037.0 349.9 1038.9 346.6 1042.6 346.6 C1046.9 346.6 1049.0 347.9 1053.3 347.9 C1057.0 347.9 1058.9 345.9 1062.6 344.6 C1065.8 343.5 1067.4 341.9 1070.6 341.9 C1074.3 341.9 1076.2 343.6 1079.9 344.6 C1084.1 345.7 1086.3 347.2 1090.5 347.2 C1094.2 347.2 1096.1 346.6 1099.8 346.6 C1104.1 346.6 1106.2 348.6 1110.5 348.6 C1114.7 348.6 1116.9 348.0 1121.1 347.2 C1124.3 346.6 1125.9 345.3 1129.1 345.3 C1132.3 345.3 1133.9 347.3 1137.1 348.6 C1139.2 349.4 1140.3 350.6 1142.4 350.6 C1144.5 350.6 1145.6 347.2 1147.7 347.2 C1150.9 347.2 1152.5 348.1 1155.7 348.6 C1159.9 349.2 1162.1 349.5 1166.3 349.9 C1170.6 350.3 1172.7 350.6 1177.0 350.6 C1178.2 350.6 1178.8 348.3 1180.0 348.3 C1184.0 348.3 1186.0 349.4 1190.0 350.2 C1193.5 350.9 1195.3 352.1 1198.8 352.1 C1203.8 352.1 1206.4 351.2 1211.4 350.8 C1216.4 350.4 1219.0 350.2 1224.0 350.2 C1229.0 350.2 1231.5 351.4 1236.5 351.4 C1241.5 351.4 1244.1 350.8 1249.1 350.8 C1251.6 350.8 1252.9 351.4 1255.4 351.4 C1260.4 351.4 1263.0 348.3 1268.0 348.3 C1273.0 348.3 1275.5 350.2 1280.5 350.8 C1285.5 351.4 1288.1 351.4 1293.1 351.4 C1296.1 351.4 1297.6 350.4 1300.6 348.9 C1303.6 347.4 1305.2 346.0 1308.2 343.9 C1310.2 342.5 1311.2 341.2 1313.2 340.1 C1315.7 338.7 1317.0 337.6 1319.5 337.6 C1321.5 337.6 1322.5 339.1 1324.5 339.5 C1327.0 340.1 1328.3 340.1 1330.8 340.1 C1333.6 340.1 1337.7 337.0 1337.7 337.0" fill="none" stroke="#feb56a" stroke-width="4" stroke-linejoin="round" stroke-linecap="round"/>
<path d="M372.3 354.9 C372.3 354.9 394.9 354.9 410.0 354.9 C436.6 354.9 449.9 354.9 476.5 354.9 C485.9 354.9 490.6 354.9 500.0 354.9 C508.3 354.9 512.4 354.0 520.7 353.6 C529.0 353.2 533.1 353.3 541.4 352.8 C549.7 352.3 553.8 351.8 562.1 351.2 C566.2 350.9 568.3 350.7 572.4 350.7 C576.6 350.7 578.6 351.4 582.8 351.7 C586.9 352.0 589.0 352.2 593.1 352.2 C597.3 352.2 599.3 351.7 603.5 351.7 C607.4 351.7 609.4 352.5 613.3 352.5 C616.0 352.5 617.3 349.9 620.0 349.9 C622.6 349.9 624.0 350.2 626.6 350.6 C629.2 351.0 630.6 351.9 633.2 351.9 C638.5 351.9 641.2 351.9 646.5 351.9 C651.8 351.9 654.5 351.9 659.8 351.9 C665.1 351.9 667.8 351.2 673.1 351.2 C678.4 351.2 681.1 351.2 686.4 351.2 C691.7 351.2 694.4 351.0 699.7 350.6 C701.8 350.5 702.9 349.9 705.0 349.9 C708.2 349.9 709.8 351.3 713.0 351.9 C718.3 352.5 721.0 352.5 726.3 352.5 C729.0 352.5 730.3 352.5 733.0 352.5 C735.6 352.5 737.0 351.4 739.6 350.6 C741.2 350.1 742.0 349.2 743.6 349.2 C745.8 349.2 746.8 349.9 749.0 349.9 C751.4 349.9 752.6 345.5 755.0 343.9 C757.7 342.1 759.0 341.2 761.7 341.2 C764.3 341.2 765.7 341.2 768.3 341.2 C769.9 341.2 770.7 346.0 772.3 346.6 C776.0 347.2 777.9 347.2 781.6 347.2 C784.8 347.2 786.4 341.9 789.6 341.9 C791.7 341.9 792.8 341.9 794.9 342.6 C797.6 343.3 798.9 345.2 801.6 345.9 C806.9 346.6 809.6 346.6 814.9 346.6 C820.2 346.6 822.9 345.9 828.2 345.2 C833.5 344.5 836.2 344.3 841.5 343.2 C842.9 342.9 843.6 341.8 845.0 341.6 C850.3 340.7 853.0 340.8 858.3 340.3 C863.6 339.8 866.3 339.6 871.6 338.9 C876.9 338.2 879.6 336.9 884.9 336.9 C890.2 336.9 892.9 336.9 898.2 336.9 C901.9 336.9 903.8 338.2 907.5 338.9 C910.7 339.5 912.3 340.3 915.5 340.3 C918.2 340.3 919.5 340.3 922.2 338.9 C924.3 337.5 925.4 332.9 927.5 332.9 C929.1 332.9 929.9 334.5 931.5 336.9 C933.1 339.3 933.9 344.9 935.5 344.9 C937.1 344.9 937.9 339.6 939.5 339.6 C941.1 339.6 941.8 343.6 943.4 343.6 C945.6 343.6 946.6 342.9 948.8 342.9 C950.9 342.9 952.0 346.2 954.1 346.2 C956.7 346.2 958.1 346.2 960.7 346.2 C964.4 346.2 966.3 344.2 970.0 344.2 C972.7 344.2 974.0 344.9 976.7 344.9 C978.8 344.9 979.9 343.6 982.0 343.6 C984.7 343.6 986.0 344.5 988.7 344.9 C992.4 345.5 994.3 345.5 998.0 346.2 C1001.7 346.9 1003.6 348.2 1007.3 348.2 C1010.5 348.2 1012.1 345.6 1015.3 345.6 C1017.2 345.6 1018.1 345.6 1020.0 345.9 C1024.2 346.5 1026.4 347.9 1030.6 347.9 C1033.3 347.9 1034.6 347.6 1037.3 345.9 C1041.0 343.6 1042.9 340.6 1046.6 337.9 C1050.3 335.2 1052.2 334.7 1055.9 332.6 C1057.8 331.5 1058.7 330.0 1060.6 330.0 C1063.0 330.0 1064.2 332.8 1066.6 334.6 C1070.3 337.3 1072.2 341.3 1075.9 341.3 C1078.5 341.3 1079.9 338.6 1082.5 338.6 C1085.7 338.6 1087.3 344.6 1090.5 344.6 C1094.2 344.6 1096.1 344.6 1099.8 344.6 C1104.1 344.6 1106.2 345.9 1110.5 345.9 C1114.7 345.9 1116.9 344.3 1121.1 343.3 C1124.8 342.4 1126.7 341.3 1130.4 341.3 C1133.6 341.3 1135.2 344.6 1138.4 344.6 C1142.1 344.6 1144.0 341.3 1147.7 341.3 C1152.5 341.3 1154.9 348.6 1159.7 348.6 C1162.3 348.6 1163.7 347.9 1166.3 347.2 C1170.0 346.3 1171.9 344.7 1175.6 344.6 C1177.4 344.5 1178.2 344.5 1180.0 344.5 C1184.0 344.5 1186.0 345.0 1190.0 345.8 C1193.5 346.5 1195.3 348.3 1198.8 348.3 C1203.8 348.3 1206.4 347.4 1211.4 347.0 C1216.4 346.6 1219.0 346.4 1224.0 346.4 C1229.0 346.4 1231.5 348.3 1236.5 348.3 C1241.5 348.3 1244.1 347.0 1249.1 347.0 C1254.1 347.0 1256.7 347.0 1261.7 347.0 C1265.2 347.0 1267.0 344.5 1270.5 344.5 C1274.5 344.5 1276.5 345.8 1280.5 345.8 C1285.5 345.8 1288.1 345.8 1293.1 345.8 C1296.1 345.8 1297.6 344.9 1300.6 343.9 C1303.1 343.1 1304.4 341.4 1306.9 341.4 C1310.4 341.4 1312.2 344.5 1315.7 344.5 C1319.2 344.5 1321.0 343.4 1324.5 342.6 C1327.5 341.9 1329.0 341.9 1332.0 340.8 C1334.3 339.9 1337.7 337.6 1337.7 337.6" fill="none" stroke="#91e8e1" stroke-width="4" stroke-linejoin="round" stroke-linecap="round"/>
</g>
<path d="M58 356.5 H1350" stroke="#333" stroke-width="1"/>
<g><path d="M96.5 356 V366" stroke="#333" stroke-width="1"/><path d="M200.5 356 V366" stroke="#333" stroke-width="1"/><path d="M304.5 356 V366" stroke="#333" stroke-width="1"/><path d="M408.5 356 V366" stroke="#333" stroke-width="1"/><path d="M511.5 356 V366" stroke="#333" stroke-width="1"/><path d="M615.5 356 V366" stroke="#333" stroke-width="1"/><path d="M719.5 356 V366" stroke="#333" stroke-width="1"/><path d="M822.5 356 V366" stroke="#333" stroke-width="1"/><path d="M926.5 356 V366" stroke="#333" stroke-width="1"/><path d="M1030.5 356 V366" stroke="#333" stroke-width="1"/><path d="M1134.5 356 V366" stroke="#333" stroke-width="1"/><path d="M1237.5 356 V366" stroke="#333" stroke-width="1"/><path d="M1341.5 356 V366" stroke="#333" stroke-width="1"/></g>
<g font-size="12" fill="#333333"><text x="97.1" y="383" text-anchor="middle">2002</text><text x="200.8" y="383" text-anchor="middle">2004</text><text x="304.6" y="383" text-anchor="middle">2006</text><text x="408.2" y="383" text-anchor="middle">2008</text><text x="512.0" y="383" text-anchor="middle">2010</text><text x="615.7" y="383" text-anchor="middle">2012</text><text x="719.5" y="383" text-anchor="middle">2014</text><text x="823.1" y="383" text-anchor="middle">2016</text><text x="926.9" y="383" text-anchor="middle">2018</text><text x="1030.6" y="383" text-anchor="middle">2020</text><text x="1134.4" y="383" text-anchor="middle">2022</text><text x="1238.1" y="383" text-anchor="middle">2024</text><text x="1335.9" y="383" text-anchor="middle">2026</text></g>
<g font-size="12" fill="#333333"><text x="43" y="360.3" text-anchor="end">0</text><text x="43" y="314.3" text-anchor="end">5</text><text x="43" y="269.3" text-anchor="end">10</text><text x="43" y="224.3" text-anchor="end">15</text><text x="43" y="178.3" text-anchor="end">20</text><text x="43" y="133.3" text-anchor="end">25</text><text x="43" y="88.3" text-anchor="end">30</text></g>
<text transform="translate(18 219.4) rotate(-90)" text-anchor="middle" font-size="12" fill="#666666">Ratings (%)</text>
<g font-size="12" fill="#333333"><rect x="336.0" y="414" width="15.5" height="4" rx="2" fill="#2caffe"/><text x="357.4" y="419.6" textLength="39.7" lengthAdjust="spacingAndGlyphs">Python</text><rect x="416.8" y="414" width="15.5" height="4" rx="2" fill="#544fc5"/><text x="437.8" y="419.6" textLength="8.8" lengthAdjust="spacingAndGlyphs">C</text><rect x="465.6" y="414" width="15.5" height="4" rx="2" fill="#00e272"/><text x="487.0" y="419.6" textLength="25.0" lengthAdjust="spacingAndGlyphs">C++</text><rect x="532.3" y="414" width="15.5" height="4" rx="2" fill="#fe6a35"/><text x="553.8" y="419.6" textLength="23.7" lengthAdjust="spacingAndGlyphs">Java</text><rect x="598.0" y="414" width="15.5" height="4" rx="2" fill="#6b8abc"/><text x="619.1" y="419.6" textLength="16.0" lengthAdjust="spacingAndGlyphs">C#</text><rect x="654.7" y="414" width="15.5" height="4" rx="2" fill="#d568fb"/><text x="675.8" y="419.6" textLength="56.4" lengthAdjust="spacingAndGlyphs">JavaScript</text><rect x="753.3" y="414" width="15.5" height="4" rx="2" fill="#2ee0ca"/><text x="774.4" y="419.6" textLength="65.7" lengthAdjust="spacingAndGlyphs">Visual Basic</text><rect x="860.4" y="414" width="15.5" height="4" rx="2" fill="#fa4b42"/><text x="881.5" y="419.6" textLength="23.6" lengthAdjust="spacingAndGlyphs">SQL</text><rect x="925.1" y="414" width="15.5" height="4" rx="2" fill="#feb56a"/><text x="946.2" y="419.6" textLength="21.4" lengthAdjust="spacingAndGlyphs">Perl</text><rect x="987.2" y="414" width="15.5" height="4" rx="2" fill="#91e8e1"/><text x="1008.3" y="419.6" textLength="8.1" lengthAdjust="spacingAndGlyphs">R</text></g>
</svg>
</body></html>
